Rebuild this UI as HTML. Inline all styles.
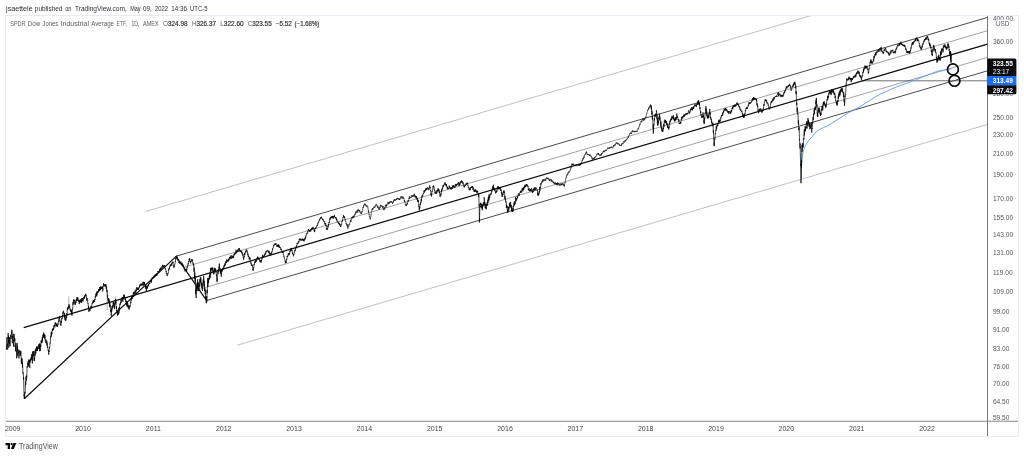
<!DOCTYPE html>
<html lang="en"><head><meta charset="utf-8"><title>DIA chart - TradingView</title>
<style>
html,body{margin:0;padding:0;background:#fff;}
body{width:1024px;height:456px;overflow:hidden;position:relative;font-family:"Liberation Sans",sans-serif;}
#chart{position:absolute;left:0;top:0;width:1024px;height:456px;display:block;}
#chart text{font-family:"Liberation Sans",sans-serif;}
.t{position:absolute;white-space:nowrap;line-height:1;transform-origin:0 0;}
</style></head><body>
<svg id="chart" width="1024" height="456" viewBox="0 0 1024 456">
<rect x="5.5" y="15.5" width="1013.0" height="421.0" fill="#fff" stroke="#e8ebf1" stroke-width="1"/>
<defs><clipPath id="plot"><rect x="6.0" y="16.0" width="981.5" height="405.2"/></clipPath></defs>
<g clip-path="url(#plot)" fill="none" stroke-linecap="butt">
<line x1="145.5" y1="211.5" x2="987.5" y2="-36.3" stroke="#aeb1ba" stroke-width="0.8"/>
<line x1="237.3" y1="345.2" x2="987.5" y2="124.5" stroke="#aeb1ba" stroke-width="0.8"/>
<line x1="183.7" y1="267.3" x2="987.5" y2="30.7" stroke="#707075" stroke-width="0.65"/>
<line x1="199.0" y1="289.4" x2="987.5" y2="57.4" stroke="#707075" stroke-width="0.65"/>
<line x1="176.1" y1="256.2" x2="987.5" y2="17.4" stroke="#1c1c1e" stroke-width="0.8"/>
<line x1="206.7" y1="300.5" x2="987.5" y2="70.8" stroke="#1c1c1e" stroke-width="0.8"/>
<line x1="861.5" y1="80.8" x2="987.5" y2="80.8" stroke="#4a4a4e" stroke-width="0.8"/>
<polyline points="801.2,178.0 801.5,168.0 801.9,160.0 802.6,154.0 803.6,150.0 805.0,146.5 806.5,143.8 808.5,140.8 811.6,137.2 814.0,134.4 816.8,131.2 820.0,129.2 823.5,127.6 827.4,125.9 832.0,123.0 837.9,119.4 843.0,116.2 848.4,112.8 853.5,110.1 858.9,107.3 864.0,104.1 869.5,100.6 875.0,97.2 880.0,94.2 886.0,91.6 890.5,89.4 896.0,87.1 901.4,85.3 909.0,82.4 916.7,79.4 924.0,76.5 932.1,73.3 936.0,71.8 939.7,70.7 943.5,70.1 947.4,69.6 951.6,68.8" stroke="#5b9cf6" stroke-width="0.9" stroke-linejoin="round"/>
<path d="M6.0,343.5 6.0,346.5 6.3,346.9 6.3,345.9 6.6,348.1 6.6,349.7 6.8,343.1 6.8,340.2 7.1,337.1 7.1,341.3 7.4,345.5 7.4,344.6 7.7,346.4 7.7,349.6 8.0,340.7 8.0,339.3 8.2,333.1 8.2,334.7 8.5,342.8 8.5,335.9 8.8,344.4 8.8,347.5 9.1,342.3 9.1,340.5 9.4,337.2 9.4,342.0 9.6,344.2 9.6,340.1 9.9,343.8 9.9,346.1 10.2,346.2 10.2,342.1 10.5,335.6 10.5,336.6 10.8,336.3 10.8,334.8 11.0,337.8 11.0,339.0 11.3,337.2 11.3,335.5 11.6,331.7 11.6,333.3 11.9,332.6 11.9,329.7 12.1,336.0 12.1,337.9 12.4,343.2 12.4,340.6 12.7,336.0 12.7,338.1 13.0,335.3 13.0,333.6 13.3,337.3 13.3,338.6 13.5,346.5 13.5,343.6 13.8,339.8 13.8,342.0 14.1,336.3 14.1,333.9 14.4,335.7 14.4,337.7 14.7,340.9 14.7,338.3 14.9,338.3 14.9,346.7 15.2,346.8 15.2,345.1 15.5,348.0 15.5,350.9 15.8,351.1 15.8,342.7 16.1,346.2 16.1,348.4 16.3,352.1 16.3,351.0 16.6,353.0 16.6,358.3 16.9,353.1 16.9,351.4 17.2,343.1 17.2,348.0 17.5,350.5 17.5,346.3 17.7,355.2 17.7,356.3 18.0,354.5 18.0,354.2 18.3,349.6 18.3,351.2 18.6,353.7 18.6,351.9 18.9,354.6 18.9,358.4 19.1,356.5 19.1,352.7 19.4,351.2 19.4,352.5 19.7,352.2 19.7,350.3 20.0,351.5 20.0,352.4 20.3,356.0 20.3,353.4 20.5,352.7 20.5,354.1 20.8,352.6 20.8,350.9 21.1,354.8 21.1,355.8 21.4,363.8 21.4,359.4 21.7,358.4 21.7,363.8 21.9,361.2 21.9,358.6 22.2,358.5 22.2,360.2 22.5,367.4 22.5,362.8 22.8,368.8 22.8,372.5 23.0,373.7 23.0,372.3 23.3,372.9 23.3,373.6 23.6,379.4 23.6,377.3 23.9,389.0 23.9,390.3 24.2,396.0 24.2,394.5 24.3,397.5 24.3,399.0 24.4,395.1 24.4,397.9 24.7,395.4 24.7,392.1 25.0,392.3 25.0,393.7 25.3,390.5 25.3,388.6 25.6,381.3 25.6,385.3 25.8,383.9 25.8,380.7 26.1,376.5 26.1,380.0 26.4,380.7 26.4,375.7 26.7,375.5 26.7,377.8 27.0,370.5 27.0,368.5 27.2,366.1 27.2,367.6 27.5,367.3 27.5,365.4 27.8,362.7 27.8,365.2 28.1,365.3 28.1,361.0 28.4,362.1 28.4,366.6 28.6,362.7 28.6,360.7 28.9,359.4 28.9,360.4 29.2,362.4 29.2,360.2 29.5,361.7 29.5,363.6 29.8,367.9 29.8,359.9 30.0,360.9 30.0,362.5 30.3,361.7 30.3,360.0 30.6,358.6 30.6,360.8 30.9,359.7 30.9,358.5 31.2,357.5 31.2,359.3 31.4,359.2 31.4,354.2 31.7,354.9 31.7,356.9 32.0,360.2 32.0,355.7 32.3,356.6 32.3,363.5 32.6,357.3 32.6,356.3 32.8,351.5 32.8,356.8 33.1,352.9 33.1,351.6 33.4,353.3 33.4,356.1 33.7,353.3 33.7,351.0 33.9,355.0 33.9,357.4 34.2,361.1 34.2,357.9 34.5,357.4 34.5,360.5 34.8,356.4 34.8,354.0 35.1,350.8 35.1,355.7 35.3,352.3 35.3,350.8 35.6,349.1 35.6,351.7 35.9,353.4 35.9,349.2 36.2,348.2 36.2,350.6 36.5,350.5 36.5,346.6 36.7,349.8 36.7,350.8 37.0,349.9 37.0,347.7 37.3,349.6 37.3,350.8 37.6,351.1 37.6,346.5 37.9,346.5 37.9,348.8 38.1,348.9 38.1,346.7 38.4,346.6 38.4,347.4 38.7,348.6 38.7,345.1 39.0,344.0 39.0,348.3 39.3,345.7 39.3,343.8 39.5,345.4 39.5,347.1 39.8,351.2 39.8,343.4 40.1,347.9 40.1,350.9 40.4,349.5 40.4,344.6 40.7,344.8 40.7,347.1 40.9,345.9 40.9,343.0 41.2,340.3 41.2,341.9 41.5,343.1 41.5,340.8 41.8,340.8 41.8,343.0 42.1,342.0 42.1,340.1 42.3,337.2 42.3,341.7 42.6,337.9 42.6,336.0 42.9,335.1 42.9,336.3 43.2,336.0 43.2,333.7 43.5,334.1 43.5,335.8 43.7,337.7 43.7,332.6 44.0,335.5 44.0,336.0 44.3,337.5 44.3,336.1 44.6,334.2 44.6,338.7 44.9,338.1 44.9,335.2 45.1,337.6 45.1,339.9 45.4,340.7 45.4,339.2 45.7,339.7 45.7,341.3 46.0,342.9 46.0,339.9 46.2,341.7 46.2,343.1 46.5,343.1 46.5,342.1 46.8,340.8 46.8,345.4 47.1,345.5 47.1,342.6 47.4,345.2 47.4,345.7 47.6,347.9 47.6,346.5 47.9,347.8 47.9,348.6 48.2,350.8 48.2,350.1 48.5,349.9 48.5,352.7 48.8,354.7 48.8,352.8 49.0,351.0 49.0,352.0 49.3,349.9 49.3,349.3 49.6,347.2 49.6,347.8 49.9,345.4 49.9,344.5 50.2,342.5 50.2,343.3 50.4,341.6 50.4,339.0 50.7,336.3 50.7,337.4 51.0,336.2 51.0,335.6 51.3,331.8 51.3,336.4 51.6,333.4 51.6,332.5 51.8,333.1 51.8,334.3 52.1,332.8 52.1,330.3 52.4,329.3 52.4,331.0 52.7,330.6 52.7,328.6 53.0,328.9 53.0,329.9 53.2,329.5 53.2,328.4 53.5,327.8 53.5,329.9 53.8,329.0 53.8,327.0 54.1,325.1 54.1,326.8 54.4,326.9 54.4,325.3 54.6,324.8 54.6,325.8 54.9,327.3 54.9,325.7 55.2,322.9 55.2,324.3 55.5,323.4 55.5,322.2 55.8,323.0 55.8,323.8 56.0,326.1 56.0,323.2 56.3,324.5 56.3,324.9 56.6,326.1 56.6,324.2 56.9,325.1 56.9,326.0 57.1,326.5 57.1,324.8 57.4,325.1 57.4,326.9 57.7,326.4 57.7,323.6 58.0,323.5 58.0,324.6 58.3,322.7 58.3,322.2 58.5,320.7 58.5,321.7 58.8,320.7 58.8,319.5 59.1,318.3 59.1,319.3 59.4,318.0 59.4,316.7 59.7,315.9 59.7,320.7 59.9,321.5 59.9,320.4 60.2,321.4 60.2,323.3 60.5,324.7 60.5,323.7 60.8,324.2 60.8,325.6 61.1,325.8 61.1,321.6 61.3,320.8 61.3,322.9 61.6,320.5 61.6,318.3 61.9,317.9 61.9,319.3 62.2,318.1 62.2,317.6 62.5,315.2 62.5,317.4 62.7,315.0 62.7,313.2 63.0,312.3 63.0,313.5 63.3,312.1 63.3,310.7 63.6,310.9 63.6,312.2 63.9,313.4 63.9,312.7 64.1,314.5 64.1,315.9 64.4,317.5 64.4,313.3 64.7,315.4 64.7,316.8 65.0,319.8 65.0,315.1 65.3,319.5 65.3,320.7 65.5,320.3 65.5,319.5 65.8,318.1 65.8,320.6 66.1,318.7 66.1,317.2 66.4,316.2 66.4,317.7 66.7,318.0 66.7,313.3 66.9,314.9 66.9,315.5 67.2,313.6 67.2,310.2 67.5,308.1 67.5,309.9 67.8,309.2 67.8,308.5 68.0,307.1 68.0,309.0 68.3,308.3 68.3,306.5 68.6,306.0 68.6,307.7 68.9,305.0 68.9,304.1 69.2,305.1 69.2,305.8 69.4,307.5 69.4,306.7 69.7,305.7 69.7,307.5 70.0,309.7 70.0,308.7 70.3,309.1 70.3,310.4 70.6,311.6 70.6,310.1 70.8,310.0 70.8,310.5 71.1,311.4 71.1,310.7 71.4,309.7 71.4,311.8 71.7,314.4 71.7,310.4 72.0,313.4 72.0,315.7 72.2,311.9 72.2,310.8 72.5,309.1 72.5,309.8 72.8,306.6 72.8,304.7 73.1,301.9 73.1,304.6 73.4,302.4 73.4,301.4 73.6,299.5 73.6,301.5 73.9,303.2 73.9,301.0 74.2,299.8 74.2,301.0 74.5,301.2 74.5,300.1 74.8,300.9 74.8,301.5 75.0,304.6 75.0,303.5 75.3,302.3 75.3,304.8 75.6,302.0 75.6,301.5 75.9,300.9 75.9,301.8 76.2,302.5 76.2,299.4 76.4,298.9 76.4,300.9 76.7,300.2 76.7,299.6 77.0,297.2 77.0,301.0 77.3,299.5 77.3,298.9 77.6,298.3 77.6,299.1 77.8,299.6 77.8,297.4 78.1,299.1 78.1,300.5 78.4,301.2 78.4,300.6 78.7,300.8 78.7,301.9 78.9,300.1 78.9,299.7 79.2,300.4 79.2,304.1 79.5,301.5 79.5,300.3 79.8,300.5 79.8,301.5 80.1,301.5 80.1,301.0 80.3,300.5 80.3,302.2 80.6,300.4 80.6,299.3 80.9,300.1 80.9,302.8 81.2,302.3 81.2,299.5 81.5,299.6 81.5,302.0 81.7,302.6 81.7,297.9 82.0,299.3 82.0,300.3 82.3,299.1 82.3,298.0 82.6,299.2 82.6,300.0 82.9,301.5 82.9,299.3 83.1,299.8 83.1,300.5 83.4,299.1 83.4,298.4 83.7,296.8 83.7,298.2 84.0,298.8 84.0,298.0 84.3,297.1 84.3,298.6 84.5,298.3 84.5,295.5 84.8,295.8 84.8,297.3 85.1,296.6 85.1,296.1 85.4,294.5 85.4,295.9 85.7,295.4 85.7,294.0 85.9,293.8 85.9,294.2 86.2,296.2 86.2,295.5 86.5,296.9 86.5,299.7 86.8,300.6 86.8,299.3 87.1,298.0 87.1,300.2 87.3,299.8 87.3,299.4 87.6,300.4 87.6,301.4 87.9,303.5 87.9,303.0 88.2,304.0 88.2,304.9 88.5,308.7 88.5,305.9 88.7,308.5 88.7,309.4 89.0,311.9 89.0,309.3 89.3,309.6 89.3,310.3 89.6,311.0 89.6,310.0 89.8,308.9 89.8,310.8 90.1,309.9 90.1,309.0 90.4,308.1 90.4,308.9 90.7,308.4 90.7,307.5 91.0,305.8 91.0,307.1 91.2,308.7 91.2,307.4 91.5,307.1 91.5,307.4 91.8,307.0 91.8,305.1 92.1,303.6 92.1,304.0 92.4,303.1 92.4,302.5 92.6,301.9 92.6,302.7 92.9,302.7 92.9,301.6 93.2,300.5 93.2,301.9 93.5,303.1 93.5,302.1 93.8,300.2 93.8,301.1 94.0,301.9 94.0,300.3 94.3,301.0 94.3,302.1 94.6,301.6 94.6,299.7 94.9,299.2 94.9,300.1 95.2,297.6 95.2,297.0 95.4,295.9 95.4,297.6 95.7,297.2 95.7,296.1 96.0,293.5 96.0,295.8 96.3,295.3 96.3,294.6 96.6,292.2 96.6,294.8 96.8,296.4 96.8,293.0 97.1,291.4 97.1,294.6 97.4,293.1 97.4,291.3 97.7,291.3 97.7,292.8 98.0,292.6 98.0,291.2 98.2,291.1 98.2,292.3 98.5,292.0 98.5,291.2 98.8,289.0 98.8,289.3 99.1,291.4 99.1,289.1 99.4,290.3 99.4,290.8 99.6,289.8 99.6,287.0 99.9,288.1 99.9,289.5 100.2,289.6 100.2,288.2 100.5,286.7 100.5,290.3 100.8,289.3 100.8,287.5 101.0,286.6 101.0,287.2 101.3,288.9 101.3,287.9 101.6,286.9 101.6,287.8 101.9,288.8 101.9,288.0 102.1,286.5 102.1,287.1 102.4,288.5 102.4,287.3 102.7,287.8 102.7,291.4 103.0,288.7 103.0,287.4 103.3,285.6 103.3,286.3 103.5,284.9 103.5,283.2 103.8,285.0 103.8,285.9 104.1,285.9 104.1,284.7 104.4,285.4 104.4,286.3 104.7,284.5 104.7,284.2 104.9,284.5 104.9,286.1 105.2,285.7 105.2,285.3 105.5,285.3 105.5,286.9 105.8,286.6 105.8,284.1 106.1,285.2 106.1,286.3 106.3,289.0 106.3,287.8 106.6,286.5 106.6,290.3 106.9,292.1 106.9,289.7 107.2,290.0 107.2,291.7 107.5,298.2 107.5,294.7 107.7,295.3 107.7,298.0 108.0,300.4 108.0,299.2 108.3,299.2 108.3,301.8 108.6,299.9 108.6,298.0 108.9,302.1 108.9,303.1 109.1,301.6 109.1,299.4 109.4,301.8 109.4,303.0 109.7,307.3 109.7,302.7 110.0,303.0 110.0,305.2 110.3,306.0 110.3,305.1 110.5,307.8 110.5,309.5 110.8,312.0 110.8,309.8 111.1,313.5 111.1,314.3 111.4,316.0 111.4,311.6 111.7,308.4 111.7,311.6 111.9,308.9 111.9,306.1 112.2,307.3 112.2,308.5 112.5,308.2 112.5,305.4 112.8,305.3 112.8,307.4 113.0,304.7 113.0,303.5 113.3,302.2 113.3,303.1 113.6,304.5 113.6,302.2 113.9,303.4 113.9,306.1 114.2,307.5 114.2,304.1 114.4,306.1 114.4,309.0 114.7,305.4 114.7,305.0 115.0,302.3 115.0,304.4 115.3,303.5 115.3,301.0 115.6,299.0 115.6,301.5 115.8,303.4 115.8,300.7 116.1,303.6 116.1,305.3 116.4,308.8 116.4,306.0 116.7,309.8 116.7,311.2 117.0,311.3 117.0,309.8 117.2,312.8 117.2,313.7 117.5,315.5 117.5,311.3 117.8,312.7 117.8,314.5 118.1,314.9 118.1,313.8 118.4,312.7 118.4,314.8 118.6,313.8 118.6,311.8 118.9,307.7 118.9,313.3 119.2,310.3 119.2,308.6 119.5,307.2 119.5,308.7 119.8,305.0 119.8,304.3 120.0,303.6 120.0,305.0 120.3,304.1 120.3,303.8 120.6,302.5 120.6,303.7 120.9,300.8 120.9,300.2 121.2,301.4 121.2,302.5 121.4,301.4 121.4,299.7 121.7,298.6 121.7,300.6 122.0,300.1 122.0,297.2 122.3,297.2 122.3,299.0 122.6,299.3 122.6,298.3 122.8,297.2 122.8,301.6 123.1,299.2 123.1,297.4 123.4,296.8 123.4,298.0 123.7,296.7 123.7,296.1 123.9,294.4 123.9,296.5 124.2,297.9 124.2,296.4 124.5,295.1 124.5,296.4 124.8,298.2 124.8,296.9 125.1,297.2 125.1,300.0 125.3,298.2 125.3,297.6 125.6,297.9 125.6,301.2 125.9,302.0 125.9,300.7 126.2,302.1 126.2,303.1 126.5,304.5 126.5,300.8 126.7,300.9 126.7,305.3 127.0,306.2 127.0,301.6 127.3,303.9 127.3,307.1 127.6,304.9 127.6,303.0 127.9,304.0 127.9,306.0 128.1,307.3 128.1,305.0 128.4,306.0 128.4,307.4 128.7,308.3 128.7,306.6 129.0,309.0 129.0,309.7 129.3,309.2 129.3,306.0 129.5,306.6 129.5,307.4 129.8,307.6 129.8,305.6 130.1,305.5 130.1,306.6 130.4,304.4 130.4,303.6 130.7,301.8 130.7,303.4 130.9,302.4 130.9,301.5 131.2,297.7 131.2,300.5 131.5,299.4 131.5,297.0 131.8,296.0 131.8,296.7 132.1,298.3 132.1,297.2 132.3,296.4 132.3,298.6 132.6,297.7 132.6,296.6 132.9,295.3 132.9,296.8 133.2,294.8 133.2,293.6 133.5,292.3 133.5,292.9 133.7,294.6 133.7,292.1 134.0,292.3 134.0,293.4 134.3,294.0 134.3,292.7 134.6,292.5 134.6,294.0 134.8,293.9 134.8,292.7 135.1,290.6 135.1,292.2 135.4,291.6 135.4,290.9 135.7,292.4 135.7,293.7 136.0,293.1 136.0,289.5 136.2,289.2 136.2,290.9 136.5,288.4 136.5,287.4 136.8,288.4 136.8,289.9 137.1,289.5 137.1,288.4 137.4,288.2 137.4,289.1 137.6,289.6 137.6,288.4 137.9,287.4 137.9,288.4 138.2,289.7 138.2,288.8 138.5,288.0 138.5,289.4 138.8,289.3 138.8,288.6 139.0,287.4 139.0,288.2 139.3,287.6 139.3,287.0 139.6,285.6 139.6,286.7 139.9,286.0 139.9,284.6 140.2,285.3 140.2,286.2 140.4,285.6 140.4,284.5 140.7,284.9 140.7,285.7 141.0,284.3 141.0,283.4 141.3,284.8 141.3,285.4 141.6,285.5 141.6,284.7 141.8,283.8 141.8,284.6 142.1,285.1 142.1,284.4 142.4,284.0 142.4,284.6 142.7,285.5 142.7,284.1 143.0,282.2 143.0,283.6 143.2,283.0 143.2,281.7 143.5,283.1 143.5,285.6 143.8,284.2 143.8,283.5 144.1,283.6 144.1,284.1 144.4,284.5 144.4,282.0 144.6,283.0 144.6,283.9 144.9,284.7 144.9,283.8 145.2,284.9 145.2,285.5 145.5,288.2 145.5,286.8 145.8,285.0 145.8,288.6 146.0,288.9 146.0,286.5 146.3,287.1 146.3,290.8 146.6,287.9 146.6,287.0 146.9,285.9 146.9,289.1 147.1,287.9 147.1,286.7 147.4,286.6 147.4,287.6 147.7,287.3 147.7,285.3 148.0,285.3 148.0,286.4 148.3,285.8 148.3,285.3 148.5,284.2 148.5,285.5 148.8,285.6 148.8,284.2 149.1,283.1 149.1,283.7 149.4,283.6 149.4,283.0 149.7,283.0 149.7,284.0 149.9,282.9 149.9,281.9 150.2,281.5 150.2,282.0 150.5,281.5 150.5,280.4 150.8,280.5 150.8,281.9 151.1,281.8 151.1,280.0 151.3,279.1 151.3,282.7 151.6,280.6 151.6,278.8 151.9,278.4 151.9,278.9 152.2,278.8 152.2,277.5 152.5,277.2 152.5,278.3 152.7,279.1 152.7,277.9 153.0,277.5 153.0,277.6 153.3,278.0 153.3,277.3 153.6,276.6 153.6,277.9 153.9,277.7 153.9,276.9 154.1,275.5 154.1,277.7 154.4,276.8 154.4,276.2 154.7,275.4 154.7,276.0 155.0,276.3 155.0,275.0 155.3,274.5 155.3,276.4 155.5,274.6 155.5,274.4 155.8,274.5 155.8,275.6 156.1,276.0 156.1,275.4 156.4,274.0 156.4,274.9 156.7,275.4 156.7,273.4 156.9,274.9 156.9,275.5 157.2,274.0 157.2,273.2 157.5,273.6 157.5,273.9 157.8,273.1 157.8,272.3 158.0,271.1 158.0,272.1 158.3,271.7 158.3,271.0 158.6,271.6 158.6,272.7 158.9,271.8 158.9,271.2 159.2,271.6 159.2,272.1 159.4,271.6 159.4,269.3 159.7,270.2 159.7,270.4 160.0,270.8 160.0,268.5 160.3,268.8 160.3,269.9 160.6,268.7 160.6,267.7 160.8,268.9 160.8,269.9 161.1,269.8 161.1,268.0 161.4,268.0 161.4,268.4 161.7,268.2 161.7,267.5 162.0,266.3 162.0,268.5 162.2,267.7 162.2,267.0 162.5,265.2 162.5,266.3 162.8,266.3 162.8,264.8 163.1,265.7 163.1,266.2 163.4,267.3 163.4,266.5 163.6,266.1 163.6,266.9 163.9,266.5 163.9,265.5 164.2,266.6 164.2,267.1 164.5,266.2 164.5,265.1 164.8,266.9 164.8,268.1 165.0,268.7 165.0,268.4 165.3,268.3 165.3,269.3 165.6,269.7 165.6,269.3 165.9,270.3 165.9,271.1 166.2,271.8 166.2,271.2 166.4,273.3 166.4,274.0 166.7,273.9 166.7,273.3 167.0,273.3 167.0,274.9 167.3,276.1 167.3,275.6 167.6,274.5 167.6,274.9 167.8,273.9 167.8,273.6 168.1,272.9 168.1,273.4 168.4,272.3 168.4,271.6 168.7,269.3 168.7,270.2 168.9,268.8 168.9,268.0 169.2,267.8 169.2,268.4 169.5,269.2 169.5,266.9 169.8,266.4 169.8,266.8 170.1,265.8 170.1,264.7 170.3,265.7 170.3,266.3 170.6,265.4 170.6,264.6 170.9,264.8 170.9,266.1 171.2,265.4 171.2,264.9 171.5,263.9 171.5,265.3 171.7,264.1 171.7,263.1 172.0,262.6 172.0,263.7 172.3,263.3 172.3,262.1 172.6,262.3 172.6,263.0 172.9,262.2 172.9,261.5 173.1,262.5 173.1,263.6 173.4,265.8 173.4,265.5 173.7,266.0 173.7,267.7 174.0,267.7 174.0,266.6 174.3,265.8 174.3,266.8 174.5,264.8 174.5,264.4 174.8,264.0 174.8,264.3 175.1,263.1 175.1,262.6 175.4,261.0 175.4,261.6 175.7,259.1 175.7,258.7 175.9,258.2 175.9,259.5 176.1,256.3 176.2,257.1 176.2,256.5 176.5,256.3 176.5,256.6 176.8,257.4 176.8,255.8 177.1,258.4 177.1,258.8 177.3,258.9 177.3,258.7 177.6,259.4 177.6,260.4 177.9,260.1 177.9,259.9 178.2,259.7 178.2,260.5 178.5,260.7 178.5,260.5 178.7,261.7 178.7,262.1 179.0,262.9 179.0,262.7 179.3,262.0 179.3,262.6 179.6,263.3 179.6,262.7 179.8,263.3 179.8,263.6 180.1,263.8 180.1,262.4 180.4,262.3 180.4,263.0 180.7,262.9 180.7,262.2 181.0,261.7 181.0,264.3 181.2,264.5 181.2,263.8 181.5,264.1 181.5,265.2 181.8,265.1 181.8,263.4 182.1,262.8 182.1,263.1 182.4,264.8 182.4,263.7 182.6,263.9 182.6,265.0 182.9,264.8 182.9,264.4 183.2,265.9 183.2,266.6 183.5,265.9 183.5,265.3 183.8,266.7 183.8,267.6 184.0,268.2 184.0,267.5 184.3,268.4 184.3,268.8 184.6,269.7 184.6,269.2 184.9,269.7 184.9,271.3 185.2,270.9 185.2,269.8 185.4,269.2 185.4,270.3 185.7,270.4 185.7,269.6 186.0,270.6 186.0,271.3 186.3,271.7 186.3,270.6 186.6,268.8 186.6,270.9 186.8,270.1 186.8,268.3 187.1,267.4 187.1,268.1 187.4,266.6 187.4,266.0 187.7,265.2 187.7,265.8 188.0,265.2 188.0,264.7 188.2,263.2 188.2,264.4 188.5,262.2 188.5,261.5 188.8,260.9 188.8,261.5 189.1,260.3 189.1,259.4 189.4,258.7 189.4,259.5 189.6,260.7 189.6,258.0 189.9,259.9 189.9,261.3 190.2,262.3 190.2,261.1 190.5,262.1 190.5,262.7 190.7,263.4 190.7,262.2 191.0,261.5 191.0,262.0 191.3,261.8 191.3,260.0 191.6,259.5 191.6,259.9 191.9,260.6 191.9,259.3 192.1,259.6 192.1,260.5 192.4,260.6 192.4,259.6 192.7,260.2 192.7,262.4 193.0,263.7 193.0,262.8 193.3,263.4 193.3,263.7 193.5,266.0 193.5,264.2 193.8,265.1 193.8,265.6 194.1,271.8 194.1,267.7 194.4,270.0 194.4,273.9 194.7,278.8 194.7,272.2 194.9,274.4 194.9,277.1 195.2,282.1 195.2,276.0 195.5,283.5 195.5,286.3 195.8,294.1 195.8,289.6 196.0,295.0 196.1,295.3 196.1,298.0 196.3,292.6 196.3,288.8 196.6,285.5 196.6,290.8 196.9,286.2 196.9,283.0 197.2,282.6 197.2,284.5 197.5,285.9 197.5,280.6 197.7,279.3 197.7,284.5 198.0,291.2 198.0,282.0 198.3,285.0 198.3,290.9 198.6,289.2 198.6,286.1 198.9,283.1 198.9,288.7 199.1,289.2 199.1,285.0 199.4,284.6 199.4,285.8 199.7,286.5 199.7,283.7 200.0,279.0 200.0,283.6 200.3,278.9 200.3,277.5 200.5,279.0 200.5,280.4 200.8,281.7 200.8,277.4 201.1,283.3 201.1,284.5 201.4,286.0 201.4,282.5 201.7,286.3 201.7,288.0 201.9,286.9 201.9,284.9 202.2,286.0 202.2,289.6 202.5,290.9 202.5,287.6 202.8,283.4 202.8,284.6 203.0,284.9 203.0,283.3 203.3,279.4 203.3,283.3 203.6,280.4 203.6,276.0 203.9,279.5 203.9,284.7 204.2,287.2 204.2,280.8 204.4,283.3 204.4,291.0 204.7,289.2 204.7,287.9 205.0,288.1 205.0,291.1 205.3,294.4 205.3,291.0 205.6,289.6 205.6,296.8 205.8,299.2 205.8,296.3 206.1,297.7 206.1,302.5 206.4,303.3 206.4,299.2 206.5,300.4 206.7,296.1 206.7,302.2 207.0,296.3 207.0,295.6 207.2,290.0 207.2,293.3 207.5,287.4 207.5,280.6 207.8,277.8 207.8,287.0 208.1,284.4 208.1,282.1 208.4,279.5 208.4,281.2 208.6,283.0 208.6,278.6 208.9,278.0 208.9,280.1 209.2,279.5 209.2,276.5 209.5,275.3 209.5,279.0 209.8,273.9 209.8,273.1 210.0,274.7 210.0,276.3 210.3,277.8 210.3,270.4 210.6,268.3 210.6,274.8 210.9,272.4 210.9,268.6 211.2,267.9 211.2,269.8 211.4,268.6 211.4,267.6 211.7,268.3 211.7,268.8 212.0,270.6 212.0,269.8 212.3,268.0 212.3,269.3 212.6,269.5 212.6,267.4 212.8,269.2 212.8,272.3 213.1,271.3 213.1,269.7 213.4,272.9 213.4,273.7 213.7,274.3 213.7,273.0 213.9,270.8 213.9,273.8 214.2,273.6 214.2,268.3 214.5,267.8 214.5,271.9 214.8,271.2 214.8,268.0 215.1,269.0 215.1,269.9 215.3,271.4 215.3,268.7 215.6,269.2 215.6,270.7 215.9,272.4 215.9,271.1 216.2,272.3 216.2,273.7 216.5,276.3 216.5,274.6 216.7,276.7 216.7,278.1 217.0,281.7 217.0,280.1 217.3,278.3 217.3,280.7 217.6,275.2 217.6,274.8 217.9,271.6 217.9,274.1 218.1,273.9 218.1,269.5 218.4,269.3 218.4,270.8 218.7,272.1 218.7,267.6 219.0,266.5 219.0,267.6 219.3,266.7 219.3,263.6 219.5,266.7 219.5,268.2 219.8,270.2 219.8,268.0 220.1,267.9 220.1,269.0 220.4,272.9 220.4,270.8 220.7,270.5 220.7,272.1 220.9,274.0 220.9,273.3 221.2,270.0 221.2,276.7 221.5,272.5 221.5,272.0 221.8,270.5 221.8,272.1 222.1,270.2 222.1,269.4 222.3,269.0 222.3,270.6 222.6,269.6 222.6,267.9 222.9,268.8 222.9,269.4 223.2,269.4 223.2,268.0 223.5,268.3 223.5,268.9 223.7,266.5 223.7,265.8 224.0,265.5 224.0,267.5 224.3,266.8 224.3,266.4 224.6,264.5 224.6,266.1 224.8,264.3 224.8,263.3 225.1,263.5 225.1,265.5 225.4,264.1 225.4,263.2 225.7,261.5 225.7,263.0 226.0,262.4 226.0,261.6 226.2,262.1 226.2,263.1 226.5,262.9 226.5,262.3 226.8,259.4 226.8,261.6 227.1,262.1 227.1,260.2 227.4,260.8 227.4,261.2 227.6,261.1 227.6,260.8 227.9,259.9 227.9,260.8 228.2,261.0 228.2,259.8 228.5,259.0 228.5,261.4 228.8,259.3 228.8,258.8 229.0,258.5 229.0,259.5 229.3,259.4 229.3,258.8 229.6,256.9 229.6,257.8 229.9,259.2 229.9,257.2 230.2,258.4 230.2,259.1 230.4,258.1 230.4,256.4 230.7,256.3 230.7,257.5 231.0,257.2 231.0,255.3 231.3,256.1 231.3,257.6 231.6,258.5 231.6,257.3 231.8,257.7 231.8,258.3 232.1,257.2 232.1,255.5 232.4,256.6 232.4,257.0 232.7,257.9 232.7,256.1 233.0,255.9 233.0,257.3 233.2,257.1 233.2,256.6 233.5,256.7 233.5,258.1 233.8,255.8 233.8,254.2 234.1,254.4 234.1,255.4 234.4,254.9 234.4,253.9 234.6,253.1 234.6,254.0 234.9,254.7 234.9,253.9 235.2,252.8 235.2,253.4 235.5,253.7 235.5,252.5 235.7,251.9 235.7,252.5 236.0,252.1 236.0,249.6 236.3,250.9 236.3,253.4 236.6,251.6 236.6,250.9 236.9,251.0 236.9,251.6 237.1,252.2 237.1,251.2 237.4,251.3 237.4,251.7 237.7,251.2 237.7,249.7 238.0,251.6 238.0,252.1 238.3,251.1 238.3,250.3 238.5,248.9 238.5,249.1 238.8,248.7 238.8,248.3 239.1,249.9 239.1,250.3 239.4,250.3 239.4,248.2 239.7,250.1 239.7,250.6 239.9,251.7 239.9,250.7 240.2,250.0 240.2,250.6 240.5,251.3 240.5,250.6 240.8,251.7 240.8,252.0 241.1,252.2 241.1,251.6 241.3,250.7 241.3,251.7 241.6,252.6 241.6,251.5 241.9,251.9 241.9,252.8 242.2,253.8 242.2,252.6 242.5,252.7 242.5,253.7 242.7,255.7 242.7,254.0 243.0,254.8 243.0,255.3 243.3,258.0 243.3,257.6 243.6,259.3 243.6,259.8 243.9,257.8 243.9,257.6 244.1,256.3 244.1,257.3 244.4,256.2 244.4,255.6 244.7,253.0 244.7,255.1 245.0,254.0 245.0,253.3 245.3,251.6 245.3,252.4 245.5,252.3 245.5,251.7 245.8,251.6 245.8,252.0 246.1,251.8 246.1,249.8 246.4,250.1 246.4,251.3 246.6,251.2 246.6,249.5 246.9,250.1 246.9,250.8 247.2,252.3 247.2,251.6 247.5,252.3 247.5,253.4 247.8,254.7 247.8,253.4 248.0,254.3 248.0,255.3 248.3,256.7 248.3,255.4 248.6,256.0 248.6,256.4 248.9,257.3 248.9,256.6 249.2,257.1 249.2,259.6 249.4,258.3 249.4,257.8 249.7,257.2 249.7,257.5 250.0,259.1 250.0,257.9 250.3,260.4 250.3,260.9 250.6,261.7 250.6,261.4 250.8,263.1 250.8,263.6 251.1,262.9 251.1,262.5 251.4,265.4 251.4,265.9 251.7,265.2 251.7,264.6 252.0,265.0 252.0,265.4 252.2,266.1 252.2,264.7 252.5,267.3 252.5,267.8 252.8,269.9 252.8,269.3 253.1,269.8 253.1,270.8 253.4,270.3 253.4,269.2 253.6,267.5 253.6,268.3 253.9,266.8 253.9,266.4 254.2,264.1 254.2,265.1 254.5,263.0 254.5,262.7 254.8,261.4 254.8,262.3 255.0,262.8 255.0,262.4 255.3,261.4 255.3,262.7 255.6,261.4 255.6,259.9 255.9,260.1 255.9,260.6 256.2,260.4 256.2,259.8 256.4,259.3 256.4,261.6 256.7,259.8 256.7,259.1 257.0,258.3 257.0,259.2 257.3,258.6 257.3,257.5 257.6,256.6 257.6,256.7 257.8,258.6 257.8,256.9 258.1,257.6 258.1,258.4 258.4,259.6 258.4,258.5 258.7,258.5 258.7,258.8 258.9,259.1 258.9,258.7 259.2,259.1 259.2,259.7 259.5,260.2 259.5,259.5 259.8,259.9 259.8,261.1 260.1,262.0 260.1,260.9 260.3,260.2 260.3,262.2 260.6,262.3 260.6,261.3 260.9,260.7 260.9,261.0 261.2,262.5 261.2,260.0 261.5,259.7 261.5,260.8 261.7,260.3 261.7,259.5 262.0,258.3 262.0,258.8 262.3,257.4 262.3,256.9 262.6,254.9 262.6,257.5 262.9,257.4 262.9,256.4 263.1,256.3 263.1,257.4 263.4,256.7 263.4,255.9 263.7,256.1 263.7,256.8 264.0,257.1 264.0,256.3 264.3,254.6 264.3,255.6 264.5,255.8 264.5,255.1 264.8,254.0 264.8,254.5 265.1,253.5 265.1,252.9 265.4,253.7 265.4,254.6 265.7,253.1 265.7,252.7 265.9,251.2 265.9,252.5 266.2,252.6 266.2,252.2 266.5,251.5 266.5,251.9 266.8,251.5 266.8,251.4 267.1,250.6 267.1,251.0 267.3,250.9 267.3,250.6 267.6,250.8 267.6,251.2 267.9,251.0 267.9,250.3 268.2,250.6 268.2,251.2 268.5,252.4 268.5,251.1 268.7,252.4 268.7,253.0 269.0,252.7 269.0,250.9 269.3,252.1 269.3,254.3 269.6,253.9 269.6,253.4 269.8,253.2 269.8,253.9 270.1,254.7 270.1,254.1 270.4,253.4 270.4,255.4 270.7,255.1 270.7,254.1 271.0,253.5 271.0,254.3 271.2,253.6 271.2,252.4 271.5,252.3 271.5,253.6 271.8,253.6 271.8,252.8 272.1,251.2 272.1,251.7 272.4,250.5 272.4,249.9 272.6,248.6 272.6,249.6 272.9,248.2 272.9,247.7 273.2,247.6 273.2,247.7 273.5,247.4 273.5,246.1 273.8,245.2 273.8,245.6 274.0,245.0 274.0,244.4 274.3,244.9 274.3,245.4 274.6,244.7 274.6,243.8 274.9,244.0 274.9,244.3 275.2,244.8 275.2,244.1 275.4,243.5 275.4,244.0 275.7,244.7 275.7,244.4 276.0,243.1 276.0,244.2 276.3,244.7 276.3,244.6 276.6,244.8 276.6,245.6 276.8,246.5 276.8,245.6 277.1,245.1 277.1,246.6 277.4,245.6 277.4,245.1 277.7,244.7 277.7,245.4 278.0,246.9 278.0,245.0 278.2,246.0 278.2,246.8 278.5,245.1 278.5,244.8 278.8,244.4 278.8,246.0 279.1,247.4 279.1,245.7 279.4,245.7 279.4,247.7 279.6,247.7 279.6,247.4 279.9,247.4 279.9,247.8 280.2,247.5 280.2,247.0 280.5,248.2 280.5,248.7 280.7,249.7 280.7,249.1 281.0,248.6 281.0,249.5 281.3,250.1 281.3,249.5 281.6,249.3 281.6,250.3 281.9,251.9 281.9,251.1 282.1,251.2 282.1,251.7 282.4,252.8 282.4,252.1 282.7,251.5 282.7,251.9 283.0,253.1 283.0,252.1 283.3,253.4 283.3,254.3 283.5,255.1 283.5,254.8 283.8,255.4 283.8,255.6 284.1,257.3 284.1,256.6 284.4,257.3 284.4,258.4 284.7,259.0 284.7,258.9 284.9,259.7 284.9,260.0 285.2,262.5 285.2,262.1 285.5,261.4 285.5,263.2 285.8,262.8 285.8,261.3 286.1,262.2 286.1,262.9 286.3,260.4 286.3,259.7 286.6,259.0 286.6,260.3 286.9,259.2 286.9,258.9 287.2,256.1 287.2,256.7 287.5,257.1 287.5,256.1 287.7,255.8 287.7,256.2 288.0,256.4 288.0,255.5 288.3,253.6 288.3,254.5 288.6,254.1 288.6,253.5 288.9,253.3 288.9,255.3 289.1,254.1 289.1,253.6 289.4,253.1 289.4,254.5 289.7,254.0 289.7,253.4 290.0,250.8 290.0,251.7 290.3,250.9 290.3,250.5 290.5,250.1 290.5,250.9 290.8,250.7 290.8,249.0 291.1,248.2 291.1,249.3 291.4,249.5 291.4,248.0 291.6,248.0 291.6,249.5 291.9,251.2 291.9,250.2 292.2,250.8 292.2,250.9 292.5,253.8 292.5,253.2 292.8,253.8 292.8,254.3 293.0,254.5 293.0,253.8 293.3,254.2 293.3,255.1 293.6,256.3 293.6,255.3 293.9,254.0 293.9,254.1 294.2,254.2 294.2,253.6 294.4,251.8 294.4,252.3 294.7,251.5 294.7,251.2 295.0,249.7 295.0,251.1 295.3,249.7 295.3,248.6 295.6,248.3 295.6,249.2 295.8,248.7 295.8,247.0 296.1,246.4 296.1,246.9 296.4,247.3 296.4,247.1 296.7,245.4 296.7,245.9 297.0,244.8 297.0,244.3 297.2,242.8 297.2,243.5 297.5,243.5 297.5,243.3 297.8,243.3 297.8,244.0 298.1,243.6 298.1,243.3 298.4,241.5 298.4,242.4 298.6,242.2 298.6,241.7 298.9,241.5 298.9,242.2 299.2,241.3 299.2,239.5 299.5,238.9 299.5,239.1 299.8,240.1 299.8,239.4 300.0,238.3 300.0,239.4 300.3,239.7 300.3,239.0 300.6,239.6 300.6,240.4 300.9,240.2 300.9,239.8 301.2,239.8 301.2,240.5 301.4,239.5 301.4,239.4 301.7,239.8 301.7,240.2 302.0,239.0 302.0,238.7 302.3,238.5 302.3,239.0 302.5,239.8 302.5,239.3 302.8,239.1 302.8,240.1 303.1,240.9 303.1,240.3 303.4,239.3 303.4,241.1 303.7,240.8 303.7,238.9 303.9,240.0 303.9,240.3 304.2,241.3 304.2,240.7 304.5,239.1 304.5,239.6 304.8,239.3 304.8,238.7 305.1,237.7 305.1,239.4 305.3,238.6 305.3,238.4 305.6,236.5 305.6,238.0 305.9,236.4 305.9,235.6 306.2,234.9 306.2,235.3 306.5,235.0 306.5,234.5 306.7,233.4 306.7,233.9 307.0,233.1 307.0,232.8 307.3,233.3 307.3,233.6 307.6,232.5 307.6,231.6 307.9,231.4 307.9,232.0 308.1,231.9 308.1,230.8 308.4,229.1 308.4,230.0 308.7,230.6 308.7,229.8 309.0,230.0 309.0,230.4 309.3,230.8 309.3,230.2 309.5,230.0 309.5,231.7 309.8,231.8 309.8,231.0 310.1,230.1 310.1,230.3 310.4,231.0 310.4,229.5 310.7,229.7 310.7,231.5 310.9,230.9 310.9,230.3 311.2,229.2 311.2,229.9 311.5,229.6 311.5,229.0 311.8,228.1 311.8,228.8 312.1,228.8 312.1,227.6 312.3,228.7 312.3,229.3 312.6,229.4 312.6,227.3 312.9,226.9 312.9,227.3 313.2,228.0 313.2,227.7 313.5,228.2 313.5,228.4 313.7,229.0 313.7,228.0 314.0,229.4 314.0,230.0 314.3,231.4 314.3,230.4 314.6,230.1 314.6,232.1 314.8,230.1 314.8,229.7 315.1,228.3 315.1,228.9 315.4,229.1 315.4,228.7 315.7,227.8 315.7,228.9 316.0,227.9 316.0,227.4 316.2,227.0 316.2,227.5 316.5,226.5 316.5,226.2 316.8,225.7 316.8,226.1 317.1,225.6 317.1,224.9 317.4,224.9 317.4,225.7 317.6,225.8 317.6,224.7 317.9,222.8 317.9,223.3 318.2,223.1 318.2,222.3 318.5,222.2 318.5,222.7 318.8,221.8 318.8,221.5 319.0,220.9 319.0,221.1 319.3,219.5 319.3,219.2 319.6,219.7 319.6,220.4 319.9,219.8 319.9,219.5 320.2,218.2 320.2,218.5 320.4,218.6 320.4,218.1 320.7,217.4 320.7,218.4 321.0,218.5 321.0,217.9 321.3,217.3 321.3,217.9 321.6,217.2 321.6,216.7 321.8,218.3 321.8,218.5 322.1,218.7 322.1,218.5 322.4,218.6 322.4,219.9 322.7,220.1 322.7,219.0 323.0,219.7 323.0,219.8 323.2,219.8 323.2,219.4 323.5,220.4 323.5,221.3 323.8,221.2 323.8,220.9 324.1,221.0 324.1,221.7 324.4,222.1 324.4,221.5 324.6,222.2 324.6,222.8 324.9,224.4 324.9,223.4 325.2,222.9 325.2,223.8 325.5,224.3 325.5,223.3 325.7,224.3 325.7,225.2 326.0,226.1 326.0,225.1 326.3,226.1 326.3,227.6 326.6,229.4 326.6,228.9 326.9,228.3 326.9,229.5 327.1,230.0 327.1,229.6 327.4,228.4 327.4,229.3 327.7,228.9 327.7,227.0 328.0,225.8 328.0,226.8 328.3,227.2 328.3,226.3 328.5,224.3 328.5,225.4 328.8,223.6 328.8,223.3 329.1,222.0 329.1,223.0 329.4,222.5 329.4,220.9 329.7,219.4 329.7,220.0 329.9,219.6 329.9,218.6 330.2,217.6 330.2,219.3 330.5,217.7 330.5,217.4 330.8,217.5 330.8,217.9 331.1,217.3 331.1,216.7 331.3,217.9 331.3,218.1 331.6,217.4 331.6,216.5 331.9,216.1 331.9,218.2 332.2,217.0 332.2,216.6 332.5,216.3 332.5,216.9 332.7,217.7 332.7,217.3 333.0,216.1 333.0,216.8 333.3,218.8 333.3,217.4 333.6,216.5 333.6,217.7 333.9,217.1 333.9,216.2 334.1,216.0 334.1,216.9 334.4,215.5 334.4,214.9 334.7,216.0 334.7,216.8 335.0,217.4 335.0,217.0 335.3,217.1 335.3,217.8 335.5,217.6 335.5,217.4 335.8,218.0 335.8,218.7 336.1,218.9 336.1,217.4 336.4,218.7 336.4,220.2 336.6,219.5 336.6,218.8 336.9,220.5 336.9,220.8 337.2,221.6 337.2,220.6 337.5,221.6 337.5,222.0 337.8,222.0 337.8,221.7 338.0,221.9 338.0,222.2 338.3,223.4 338.3,222.8 338.6,222.6 338.6,223.7 338.9,223.2 338.9,222.6 339.2,223.3 339.2,224.0 339.4,224.8 339.4,223.1 339.7,223.9 339.7,225.4 340.0,224.6 340.0,224.1 340.3,225.7 340.3,226.0 340.6,227.0 340.6,226.4 340.8,225.7 340.8,226.5 341.1,226.0 341.1,225.6 341.4,224.2 341.4,224.6 341.7,223.6 341.7,222.7 342.0,221.6 342.0,222.0 342.2,221.4 342.2,221.0 342.5,219.8 342.5,220.4 342.8,219.5 342.8,218.7 343.1,217.3 343.1,217.8 343.4,216.9 343.4,215.9 343.6,215.0 343.6,216.6 343.9,217.2 343.9,216.0 344.2,216.4 344.2,217.2 344.5,217.8 344.5,216.9 344.8,218.0 344.8,218.8 345.0,219.9 M415.2,196.2 415.2,196.4 415.5,196.6 415.5,195.7 415.7,196.6 415.7,197.1 416.0,198.5 416.0,197.9 416.3,196.0 416.3,197.3 416.6,198.0 416.6,197.1 416.9,198.8 416.9,199.4 417.1,199.8 417.1,199.1 417.4,198.2 417.4,199.6 417.7,201.6 417.7,199.5 418.0,200.8 418.0,201.8 418.3,200.9 418.3,200.1 418.5,202.6 418.5,203.2 418.8,206.5 418.8,205.7 419.1,208.1 419.1,209.5 419.4,210.5 419.4,210.1 419.7,206.9 419.7,208.4 419.9,208.2 419.9,206.4 420.2,203.7 420.2,205.0 420.5,204.6 420.5,202.8 420.8,202.3 420.8,203.2 421.1,200.3 421.1,199.8 421.3,198.8 421.3,201.3 421.6,197.6 421.6,196.9 421.9,196.6 421.9,197.4 422.2,195.5 422.2,195.0 422.5,195.4 422.5,196.7 422.7,196.5 422.7,194.2 423.0,193.8 423.0,194.1 423.3,194.1 423.3,194.0 423.6,192.9 423.6,193.4 423.9,193.1 423.9,191.9 424.1,190.6 424.1,192.3 424.4,192.4 424.4,190.3 424.7,190.0 424.7,190.7 425.0,190.3 425.0,190.0 425.2,190.2 425.2,191.3 425.5,190.5 425.5,189.7 425.8,188.6 425.8,190.4 426.1,189.2 426.1,188.2 426.4,188.6 426.4,189.3 426.6,189.8 426.6,188.6 426.9,188.4 426.9,188.9 427.2,187.8 427.2,187.6 427.5,187.4 427.5,188.0 427.8,188.6 427.8,188.0 428.0,188.4 428.0,189.8 428.3,190.1 428.3,188.2 428.6,188.4 428.6,189.1 428.9,189.4 428.9,189.0 429.2,187.8 429.2,188.2 429.4,187.0 429.4,186.1 429.7,185.4 429.7,185.7 430.0,187.8 430.0,187.1 430.3,189.0 430.3,189.5 430.6,190.8 430.6,190.2 430.8,192.3 430.8,193.6 431.1,195.2 431.1,193.6 431.4,195.9 431.4,196.6 431.7,195.0 431.7,193.9 432.0,191.2 432.0,191.9 432.2,191.7 432.2,191.3 432.5,190.5 432.5,190.6 432.8,189.1 432.8,188.1 433.1,186.0 433.1,187.1 433.4,187.3 433.4,186.2 433.6,185.5 433.6,186.6 433.9,187.2 433.9,186.7 434.2,187.6 434.2,190.0 434.5,190.5 434.5,189.6 434.8,190.5 434.8,191.4 435.0,192.9 435.0,192.5 435.3,191.5 435.3,193.1 435.6,193.3 435.6,191.9 435.9,192.4 435.9,193.4 436.2,193.0 436.2,192.7 436.4,192.9 436.4,193.7 436.7,192.2 436.7,191.1 437.0,190.2 437.0,191.9 437.3,191.3 437.3,190.6 437.5,190.3 437.5,191.0 437.8,191.0 437.8,190.5 438.1,188.1 438.1,190.6 438.4,189.9 438.4,189.5 438.7,189.3 438.7,189.8 438.9,191.6 438.9,189.8 439.2,189.7 439.2,190.8 439.5,192.8 439.5,192.0 439.8,194.8 439.8,195.4 440.1,196.5 440.1,195.8 440.3,196.2 440.3,196.6 440.6,195.4 440.6,195.2 440.9,193.4 440.9,195.5 441.2,193.2 441.2,191.8 441.5,190.3 441.5,192.0 441.7,190.5 441.7,189.8 442.0,189.0 442.0,190.4 442.3,189.2 442.3,188.5 442.6,187.7 442.6,188.9 442.9,186.0 442.9,185.5 443.1,186.2 443.1,187.0 443.4,186.2 443.4,184.9 443.7,185.0 443.7,185.6 444.0,185.5 444.0,184.6 444.3,184.5 444.3,184.9 444.5,183.6 444.5,183.1 444.8,183.0 444.8,183.9 445.1,183.6 445.1,182.3 445.4,183.5 445.4,183.8 445.7,185.1 445.7,184.3 445.9,185.5 445.9,186.1 446.2,185.9 446.2,185.5 446.5,184.0 446.5,185.2 446.8,186.7 446.8,186.3 447.1,186.8 447.1,188.5 447.3,188.3 447.3,186.9 447.6,187.5 447.6,189.3 447.9,188.6 447.9,187.7 448.2,188.2 448.2,188.6 448.4,188.8 448.4,188.4 448.7,188.1 448.7,188.9 449.0,187.7 449.0,187.2 449.3,185.6 449.3,186.5 449.6,186.9 449.6,186.2 449.8,187.7 449.8,188.2 450.1,188.4 450.1,187.6 450.4,188.1 450.4,188.9 450.7,188.1 450.7,187.6 451.0,187.6 451.0,188.9 451.2,189.8 451.2,188.9 451.5,187.7 451.5,188.1 451.8,187.8 451.8,187.0 452.1,186.9 452.1,188.8 452.4,186.3 452.4,185.7 452.6,185.8 452.6,187.5 452.9,187.1 452.9,186.8 453.2,185.5 453.2,186.7 453.5,185.7 453.5,185.4 453.8,185.1 453.8,186.9 454.0,187.8 454.0,186.2 454.3,186.4 454.3,187.5 454.6,187.6 454.6,187.3 454.9,186.6 454.9,187.4 455.2,186.7 455.2,186.0 455.4,184.2 455.4,185.6 455.7,185.3 455.7,184.4 456.0,184.6 456.0,186.2 456.3,185.6 456.3,184.5 456.6,184.3 456.6,185.3 456.8,185.5 456.8,184.6 457.1,185.0 457.1,185.2 457.4,184.6 457.4,183.9 457.7,183.4 457.7,184.6 458.0,183.5 458.0,182.8 458.2,183.0 458.2,183.2 458.5,183.1 458.5,182.0 458.8,182.5 458.8,182.9 459.1,186.0 459.1,183.6 459.3,185.0 459.3,185.3 459.6,183.8 459.6,182.8 459.9,183.2 459.9,183.7 460.2,184.5 460.2,182.2 460.5,182.2 460.5,182.6 460.7,182.0 460.7,181.5 461.0,180.9 461.0,182.3 461.3,182.1 461.3,181.5 461.6,180.4 461.6,181.5 461.9,182.7 461.9,182.1 462.1,181.0 462.1,182.6 462.4,182.9 462.4,182.4 462.7,183.3 462.7,184.1 463.0,183.7 463.0,182.5 463.3,183.4 463.3,184.5 463.5,185.3 463.5,185.1 463.8,184.9 463.8,185.3 464.1,187.4 464.1,186.8 464.4,186.3 464.4,187.2 464.7,185.8 464.7,185.4 464.9,185.5 464.9,185.8 465.2,186.1 465.2,185.6 465.5,185.0 465.5,185.6 465.8,185.0 465.8,184.5 466.1,183.7 466.1,184.6 466.3,184.6 466.3,183.3 466.6,183.6 466.6,184.3 466.9,183.9 466.9,183.0 467.2,182.5 467.2,183.9 467.5,183.6 467.5,183.2 467.7,184.3 467.7,185.3 468.0,186.1 468.0,185.6 468.3,187.2 468.3,187.9 468.6,188.0 468.6,187.4 468.9,187.8 468.9,188.1 469.1,189.7 469.1,188.9 469.4,189.2 469.4,189.8 469.7,190.4 469.7,189.9 470.0,188.1 470.0,190.1 470.2,188.6 470.2,188.0 470.5,187.0 470.5,188.3 470.8,187.7 470.8,187.5 471.1,187.2 471.1,188.0 471.4,187.9 471.4,187.1 471.6,186.8 471.6,187.0 471.9,187.1 471.9,186.0 472.2,186.2 472.2,187.7 472.5,186.8 472.5,186.0 472.8,187.1 472.8,187.7 473.0,189.7 473.0,188.5 473.3,187.5 473.3,188.4 473.6,189.2 473.6,188.1 473.9,189.8 473.9,190.5 474.2,191.7 474.2,190.3 474.4,191.4 474.4,191.6 474.7,191.9 474.7,191.6 475.0,189.6 475.0,191.0 475.3,191.1 475.3,189.7 475.6,191.5 475.6,191.7 475.8,191.0 475.8,189.7 476.1,190.3 476.1,191.3 476.4,191.3 476.4,191.1 476.7,192.6 476.7,193.2 477.0,192.5 477.0,191.9 477.2,190.7 477.2,191.5 477.5,192.1 477.5,191.1 477.8,190.9 477.8,192.2 478.1,193.3 478.1,193.0 478.4,194.4 478.4,194.6 478.6,197.0 478.6,193.8 478.9,195.1 478.9,198.2 479.2,205.7 479.2,204.0 479.4,222.5 479.5,218.3 479.5,221.1 479.8,208.8 479.8,207.6 480.0,206.1 480.0,207.2 480.3,206.7 480.3,204.7 480.6,202.7 480.6,203.9 480.9,204.7 480.9,203.7 481.1,205.2 481.1,207.6 481.4,207.6 481.4,203.7 481.7,207.0 481.7,208.4 482.0,207.9 482.0,206.9 482.3,205.4 482.3,210.3 482.5,206.4 482.5,205.3 482.8,204.2 482.8,206.4 483.1,206.2 483.1,205.0 483.4,202.5 483.4,205.3 483.7,203.8 483.7,202.7 483.9,202.5 483.9,203.6 484.2,200.4 484.2,197.3 484.5,201.1 484.5,203.4 484.8,205.4 484.8,204.0 485.1,202.5 485.1,206.4 485.3,208.3 485.3,204.1 485.6,205.5 485.6,208.3 485.9,208.4 485.9,207.2 486.2,206.7 486.2,209.4 486.5,207.1 486.5,205.2 486.7,204.0 486.7,206.0 487.0,203.6 487.0,202.2 487.3,202.3 487.3,203.4 487.6,205.5 487.6,203.2 487.9,199.8 487.9,202.3 488.1,202.7 488.1,199.1 488.4,197.0 488.4,200.2 488.7,199.1 488.7,197.7 489.0,194.6 489.0,200.7 489.3,197.8 489.3,196.2 489.5,195.9 489.5,196.3 489.8,197.5 489.8,194.5 490.1,194.4 490.1,194.8 490.4,195.3 490.4,194.3 490.7,194.1 490.7,195.0 490.9,194.5 490.9,193.1 491.2,192.7 491.2,194.0 491.5,192.2 491.5,191.1 491.8,190.3 491.8,191.7 492.1,190.7 492.1,190.1 492.3,188.6 492.3,189.3 492.6,189.1 492.6,188.1 492.9,186.2 492.9,189.8 493.2,187.6 493.2,186.9 493.4,184.7 493.4,188.3 493.7,189.7 493.7,188.0 494.0,187.7 494.0,189.4 494.3,189.2 494.3,188.7 494.6,189.9 494.6,190.8 494.8,190.4 494.8,188.5 495.1,190.6 495.1,190.9 495.4,192.4 495.4,191.8 495.7,192.7 495.7,193.4 496.0,192.2 496.0,191.6 496.2,191.1 496.2,192.5 496.5,191.1 496.5,190.7 496.8,190.6 496.8,191.9 497.1,191.2 497.1,188.1 497.4,187.3 497.4,189.3 497.6,188.4 497.6,186.5 497.9,187.2 497.9,188.5 498.2,187.9 498.2,186.7 498.5,186.4 498.5,187.5 498.8,189.3 498.8,186.6 499.0,188.5 499.0,189.3 499.3,188.5 499.3,187.7 499.6,188.4 499.6,188.8 499.9,189.1 499.9,188.1 500.2,187.1 500.2,188.6 500.4,188.8 500.4,188.1 500.7,190.0 500.7,190.3 501.0,191.0 501.0,189.5 501.3,192.1 501.3,192.9 501.6,193.1 501.6,191.9 501.8,192.8 501.8,194.0 502.1,196.6 502.1,193.0 502.4,195.4 502.4,195.8 502.7,196.6 502.7,195.0 503.0,194.3 503.0,194.9 503.2,194.3 503.2,192.2 503.5,191.2 503.5,192.9 503.8,191.4 503.8,190.6 504.1,190.3 504.1,190.7 504.3,192.7 504.3,192.2 504.6,191.8 504.6,194.4 504.9,199.0 504.9,195.9 505.2,196.7 505.2,198.4 505.5,200.5 505.5,198.8 505.7,201.3 505.7,202.3 506.0,202.6 506.0,201.4 506.3,202.7 506.3,207.8 506.6,206.7 506.6,204.6 506.9,207.6 506.9,208.2 507.1,208.0 507.1,205.9 507.4,210.7 507.4,212.6 507.7,213.0 507.7,209.6 508.0,210.4 508.0,211.9 508.3,209.2 508.3,207.5 508.5,206.7 508.5,208.4 508.8,210.4 508.8,207.3 509.1,207.4 509.1,208.3 509.4,208.1 509.4,202.7 509.7,204.0 509.7,206.3 509.9,206.0 509.9,204.4 510.2,205.6 510.2,207.0 510.5,207.4 510.5,202.1 510.8,203.7 510.8,205.4 511.1,206.8 511.1,205.0 511.3,205.8 511.3,207.0 511.6,211.1 511.6,207.4 511.9,206.4 511.9,211.7 512.2,210.9 512.2,210.1 512.5,210.8 512.5,211.8 512.7,211.6 512.7,208.3 513.0,207.7 513.0,211.3 513.3,208.2 513.3,207.6 513.6,204.9 513.6,205.6 513.9,206.4 513.9,204.2 514.1,202.9 514.1,204.1 514.4,205.2 514.4,201.3 514.7,202.4 514.7,204.8 515.0,203.6 515.0,203.1 515.2,202.4 515.2,203.6 515.5,200.4 515.5,196.9 515.8,199.8 515.8,201.5 516.1,201.1 516.1,200.2 516.4,198.9 516.4,200.3 516.6,200.4 516.6,198.3 516.9,198.5 516.9,198.8 517.2,199.1 517.2,196.0 517.5,197.0 517.5,198.1 517.8,196.6 517.8,196.0 518.0,195.1 518.0,195.4 518.3,194.4 518.3,193.5 518.6,193.5 518.6,194.4 518.9,195.2 518.9,194.4 519.2,194.6 519.2,195.6 519.4,193.9 519.4,193.4 519.7,193.0 519.7,193.3 520.0,192.2 520.0,191.9 520.3,191.6 520.3,192.5 520.6,192.5 520.6,190.9 520.8,190.7 520.8,192.2 521.1,192.5 521.1,191.9 521.4,191.4 521.4,192.5 521.7,190.6 521.7,190.0 522.0,189.6 522.0,190.5 522.2,190.4 522.2,187.8 522.5,188.9 522.5,190.4 522.8,191.4 522.8,189.7 523.1,188.6 523.1,190.0 523.4,189.7 523.4,189.0 523.6,187.1 523.6,190.2 523.9,188.0 523.9,187.2 524.2,186.5 524.2,186.9 524.5,188.1 524.5,185.9 524.8,185.8 524.8,187.1 525.0,185.6 525.0,184.7 525.3,184.9 525.3,185.8 525.6,187.2 525.6,185.2 525.9,185.0 525.9,186.0 526.1,186.3 526.1,185.0 526.4,184.1 526.4,185.5 526.7,184.8 526.7,184.5 527.0,184.3 527.0,184.9 527.3,186.0 527.3,185.3 527.5,185.2 527.5,185.9 527.8,186.6 527.8,185.6 528.1,186.4 528.1,187.1 528.4,190.1 528.4,189.0 528.7,189.3 528.7,189.9 528.9,190.4 528.9,189.9 529.2,188.2 529.2,190.0 529.5,191.0 529.5,190.2 529.8,190.0 529.8,191.4 530.1,191.4 530.1,189.7 530.3,189.5 530.3,190.3 530.6,189.6 530.6,189.1 530.9,190.2 530.9,190.8 531.2,190.5 531.2,189.8 531.5,188.2 531.5,191.3 531.7,190.7 531.7,190.2 532.0,190.9 532.0,191.4 532.3,192.5 532.3,191.8 532.6,191.9 532.6,192.5 532.9,192.1 532.9,190.9 533.1,189.1 533.1,192.1 533.4,190.5 533.4,189.4 533.7,188.4 533.7,190.3 534.0,190.5 534.0,189.7 534.3,187.6 534.3,189.9 534.5,188.5 534.5,187.9 534.8,187.6 534.8,190.6 535.1,190.0 535.1,189.0 535.4,189.3 535.4,189.8 535.7,188.2 535.7,187.3 535.9,187.9 535.9,188.8 536.2,189.1 536.2,188.5 536.5,188.5 536.5,188.8 536.8,189.1 536.8,188.9 537.0,189.7 537.0,190.7 537.3,190.6 537.3,190.2 537.6,190.2 537.6,193.2 537.9,195.6 537.9,192.7 538.2,193.9 538.2,195.4 538.4,195.1 538.4,194.3 538.7,193.1 538.7,195.1 539.0,193.6 539.0,192.1 539.3,191.0 539.3,192.6 539.6,192.0 539.6,189.2 539.8,187.1 539.8,189.3 540.1,190.6 540.1,186.7 540.4,186.8 540.4,187.7 540.7,186.2 540.7,183.9 541.0,183.0 541.0,184.0 541.2,184.6 M651.1,105.8 651.1,107.2 651.4,109.8 651.4,105.9 651.6,110.5 651.6,111.4 651.9,114.6 651.9,110.7 652.2,112.4 652.2,119.1 652.5,119.6 652.5,116.1 652.8,121.4 652.8,122.7 653.0,126.7 653.0,125.6 653.3,129.5 653.3,126.9 653.3,133.6 653.6,126.1 653.6,125.1 653.9,124.3 653.9,125.3 654.2,122.6 654.2,122.1 654.4,118.3 654.4,120.5 654.7,117.5 654.7,114.9 655.0,114.5 655.0,116.9 655.3,116.6 655.3,114.8 655.6,114.3 655.6,116.0 655.8,114.1 655.8,113.6 656.1,113.8 656.1,114.5 656.4,112.6 656.4,110.3 656.7,112.9 656.7,115.0 657.0,119.1 657.0,115.0 657.2,116.9 657.2,120.0 657.5,125.3 657.5,118.5 657.8,123.3 657.8,125.6 658.1,125.2 658.1,122.5 658.4,121.1 658.4,123.3 658.6,120.1 658.6,119.1 658.9,117.3 658.9,118.6 659.2,117.2 659.2,115.8 659.5,113.5 659.5,114.8 659.8,120.1 659.8,116.3 660.0,118.2 660.0,120.2 660.3,121.3 660.3,120.7 660.6,122.1 660.6,124.7 660.9,126.4 660.9,121.5 661.1,122.7 661.1,127.0 661.4,128.7 661.4,126.6 661.7,128.6 661.7,129.6 662.0,131.3 662.0,128.1 662.3,130.0 662.3,131.0 662.5,131.8 662.5,130.4 662.8,130.1 662.8,131.8 663.1,128.9 663.1,127.3 663.4,128.1 663.4,129.2 663.7,127.5 663.7,125.5 663.9,123.9 663.9,126.8 664.2,122.3 664.2,120.8 664.5,121.0 664.5,122.3 664.8,121.1 664.8,119.6 665.1,120.9 665.1,121.7 665.3,123.1 665.3,120.7 665.6,120.1 665.6,122.8 665.9,122.1 665.9,120.8 666.2,121.9 666.2,122.6 666.5,124.4 666.5,122.3 666.7,121.4 666.7,124.9 667.0,124.4 667.0,123.1 667.3,123.7 667.3,125.3 667.6,127.9 667.6,126.9 667.9,124.7 667.9,127.2 668.1,127.9 668.1,126.8 668.4,127.9 668.4,129.3 668.7,129.7 668.7,127.8 669.0,126.8 669.0,128.2 669.3,125.1 669.3,124.1 669.5,122.6 669.5,123.8 669.8,124.3 669.8,121.8 670.1,120.5 670.1,121.9 670.4,122.2 670.4,121.0 670.7,119.4 670.7,120.2 670.9,120.3 670.9,119.3 671.2,118.4 671.2,120.1 671.5,120.1 671.5,117.6 671.8,117.4 671.8,119.6 672.0,118.5 672.0,115.7 672.3,117.0 672.3,118.2 672.6,117.9 672.6,117.1 672.9,117.0 672.9,118.1 673.2,118.5 673.2,117.2 673.4,115.2 673.4,118.0 673.7,119.3 673.7,117.0 674.0,117.9 674.0,120.3 674.3,120.4 674.3,118.8 674.6,119.0 674.6,120.0 674.8,121.5 674.8,120.3 675.1,118.8 675.1,119.9 675.4,120.8 675.4,117.5 675.7,118.6 675.7,119.8 676.0,120.1 676.0,118.4 676.2,117.0 676.2,119.4 676.5,117.6 676.5,116.7 676.8,113.6 676.8,114.5 677.1,116.6 677.1,115.8 677.4,116.9 677.4,117.9 677.6,117.6 677.6,117.1 677.9,118.3 677.9,119.3 678.2,119.8 678.2,119.0 678.5,119.6 678.5,121.2 678.8,120.9 678.8,119.5 679.0,120.7 679.0,122.6 679.3,124.0 679.3,122.9 679.6,123.2 679.6,123.9 679.9,123.9 679.9,123.7 680.2,122.9 680.2,123.9 680.4,123.8 680.4,122.0 680.7,122.2 680.7,122.7 681.0,123.1 681.0,121.6 681.3,119.3 681.3,119.8 681.6,118.7 681.6,116.9 681.8,117.6 681.8,119.5 682.1,118.1 682.1,117.5 682.4,117.0 682.4,117.7 682.7,118.2 682.7,117.7 682.9,116.1 682.9,116.6 683.2,117.2 683.2,116.1 683.5,115.6 683.5,116.5 683.8,115.8 683.8,115.2 684.1,114.7 684.1,115.9 684.3,116.9 684.3,114.5 684.6,115.2 684.6,115.7 684.9,116.0 684.9,115.2 685.2,114.7 685.2,115.1 685.5,114.7 685.5,113.7 685.7,113.7 685.7,114.5 686.0,115.1 686.0,114.7 686.3,113.3 686.3,113.6 686.6,114.2 686.6,113.7 686.9,113.3 686.9,114.7 687.1,113.6 687.1,113.2 687.4,113.4 687.4,113.7 687.7,113.4 687.7,113.0 688.0,113.2 688.0,113.6 688.3,112.3 688.3,111.7 688.5,110.6 688.5,110.9 688.8,111.1 688.8,110.7 689.1,111.7 689.1,112.7 689.4,113.6 689.4,113.3 689.7,112.4 689.7,113.1 689.9,112.1 689.9,111.5 690.2,110.4 690.2,111.5 690.5,110.5 690.5,110.0 690.8,108.9 690.8,109.3 691.1,109.9 691.1,108.5 691.3,109.6 691.3,110.1 691.6,108.4 691.6,107.7 691.9,107.0 691.9,108.4 692.2,110.4 692.2,108.6 692.5,109.5 692.5,109.9 692.7,109.1 692.7,107.5 693.0,107.0 693.0,107.6 693.3,109.0 693.3,106.7 693.6,106.7 693.6,107.4 693.8,108.6 693.8,107.8 694.1,106.0 694.1,106.5 694.4,106.1 694.4,104.8 694.7,104.8 694.7,105.5 695.0,105.2 695.0,104.4 695.2,104.8 695.2,105.3 695.5,106.1 695.5,105.7 695.8,105.0 695.8,105.7 696.1,106.5 696.1,104.5 696.4,105.4 696.4,106.6 696.6,105.8 696.6,104.4 696.9,103.4 696.9,103.8 697.2,104.3 697.2,103.6 697.5,103.7 697.5,104.9 697.8,104.1 697.8,103.1 698.0,100.8 698.0,103.4 698.3,104.3 698.3,102.3 698.6,100.2 698.6,103.1 698.9,104.3 698.9,102.3 699.2,102.2 699.2,104.1 699.4,105.3 699.4,103.1 699.7,106.7 699.7,108.7 700.0,108.6 700.0,107.3 700.3,109.8 700.3,110.8 700.6,113.1 700.6,111.4 700.8,113.3 700.8,114.2 701.1,115.3 701.1,114.2 701.4,114.9 701.4,117.8 701.7,117.5 701.7,117.1 702.0,116.4 702.0,117.2 702.2,117.5 702.2,115.6 702.5,116.4 702.5,117.5 702.8,116.2 702.8,114.6 703.1,112.4 703.1,114.2 703.4,117.2 703.4,115.4 703.6,118.3 703.6,119.7 703.9,122.6 703.9,120.9 704.2,120.3 704.2,124.1 704.5,120.5 704.5,118.8 704.7,117.6 704.7,119.5 705.0,116.1 705.0,114.4 705.3,112.5 705.3,113.5 705.6,111.1 705.6,110.4 705.9,106.2 705.9,111.5 706.1,111.0 706.1,108.7 706.4,110.8 706.4,112.2 706.7,115.5 706.7,111.4 707.0,113.8 707.0,115.7 707.3,117.7 707.3,115.8 707.5,116.1 707.5,117.1 707.8,118.4 707.8,114.6 708.1,116.2 708.1,118.4 708.4,117.8 708.4,116.1 708.7,114.9 708.7,117.8 708.9,116.7 708.9,114.9 709.2,112.8 709.2,114.3 709.5,112.3 709.5,111.1 709.8,108.9 709.8,113.2 710.1,114.7 710.1,112.1 710.3,115.3 710.3,116.9 710.6,118.4 710.6,116.7 710.9,118.9 710.9,119.8 711.2,120.3 711.2,118.7 711.5,119.8 711.5,122.9 711.7,122.1 711.7,121.2 712.0,123.0 712.0,123.6 712.3,125.4 712.3,123.9 712.6,124.4 712.6,126.2 712.9,124.5 712.9,122.6 713.1,124.8 713.1,125.9 713.4,132.9 713.4,130.4 713.7,135.7 713.7,138.3 714.0,143.5 714.0,142.4 714.2,146.2 714.3,144.0 714.3,145.2 714.5,142.8 714.5,138.5 714.8,138.2 714.8,139.7 715.1,136.1 715.1,135.5 715.4,133.3 715.4,133.9 715.7,132.4 715.7,131.4 715.9,129.8 715.9,130.3 716.2,130.7 716.2,126.2 716.5,127.8 716.5,129.5 716.8,127.6 716.8,126.4 717.0,125.3 717.0,126.5 717.3,126.1 717.3,125.2 717.6,123.2 717.6,126.1 717.9,125.5 717.9,124.4 718.2,123.0 718.2,123.4 718.4,122.6 718.4,121.3 718.7,120.6 718.7,122.7 719.0,121.0 719.0,119.9 719.3,121.2 719.3,122.2 719.6,120.4 719.6,119.6 719.8,120.1 719.8,120.9 720.1,121.5 720.1,120.6 720.4,120.5 720.4,120.9 720.7,118.8 720.7,117.6 721.0,117.9 721.0,118.5 721.2,117.7 721.2,116.7 721.5,115.0 721.5,116.4 721.8,116.0 721.8,115.3 722.1,114.8 722.1,115.6 722.4,114.3 722.4,113.5 722.6,113.4 722.6,115.7 722.9,113.1 722.9,112.5 723.2,111.9 723.2,113.3 723.5,112.2 723.5,110.7 723.8,111.0 723.8,111.7 724.0,110.9 724.0,110.1 724.3,108.8 724.3,109.4 724.6,110.0 724.6,108.9 724.9,109.2 724.9,110.8 725.2,109.4 725.2,108.7 725.4,108.4 725.4,108.9 725.7,110.4 725.7,108.4 726.0,109.7 726.0,110.3 726.3,110.2 726.3,109.3 726.6,109.5 726.6,109.7 726.8,110.8 726.8,109.5 727.1,110.0 727.1,111.4 727.4,112.3 727.4,111.5 727.7,111.1 727.7,111.8 727.9,112.3 727.9,112.0 728.2,111.3 728.2,112.0 728.5,113.5 728.5,111.5 728.8,111.5 728.8,112.4 729.1,112.6 729.1,111.5 729.3,111.3 729.3,111.5 729.6,112.0 729.6,111.6 729.9,112.7 729.9,113.7 730.2,113.4 730.2,112.3 730.5,112.1 730.5,113.2 730.7,113.8 730.7,112.7 731.0,110.4 731.0,111.5 731.3,112.3 731.3,111.2 731.6,110.5 731.6,111.4 731.9,109.8 731.9,109.4 732.1,108.2 732.1,109.1 732.4,108.7 732.4,108.3 732.7,106.8 732.7,109.2 733.0,106.9 733.0,106.5 733.3,105.4 733.3,106.4 733.5,107.3 733.5,105.7 733.8,106.1 733.8,106.6 734.1,106.8 734.1,105.7 734.4,105.1 734.4,105.4 734.7,106.7 734.7,104.8 734.9,105.5 734.9,106.2 735.2,105.9 735.2,104.7 735.5,105.8 735.5,106.4 735.8,104.9 735.8,104.7 736.1,104.5 736.1,105.8 736.3,104.5 736.3,103.8 736.6,103.2 736.6,104.1 736.9,104.1 736.9,103.2 737.2,102.5 737.2,104.0 737.5,105.0 737.5,104.4 737.7,104.3 737.7,104.6 738.0,104.8 738.0,103.6 738.3,105.0 738.3,105.8 738.6,105.0 738.6,104.6 738.8,105.3 738.8,105.5 739.1,107.0 739.1,106.2 739.4,107.5 739.4,108.0 739.7,107.9 739.7,107.4 740.0,107.3 740.0,108.8 740.2,109.7 740.2,108.8 740.5,109.9 740.5,110.5 740.8,110.2 740.8,109.5 741.1,110.1 741.1,110.7 741.4,111.6 741.4,110.8 741.6,111.6 741.6,112.0 741.9,111.8 741.9,111.4 742.2,112.9 742.2,114.0 742.5,114.4 742.5,113.5 742.8,116.2 742.8,116.7 743.0,114.7 743.0,113.9 743.3,115.1 743.3,116.0 743.6,117.5 743.6,116.6 743.9,117.4 743.9,117.9 744.2,116.4 744.2,115.6 744.4,114.1 744.4,116.5 744.7,114.1 744.7,113.8 745.0,113.0 745.0,113.5 745.3,111.5 745.3,110.6 745.6,110.3 745.6,111.2 745.8,109.9 745.8,109.4 746.1,108.2 746.1,109.0 746.4,107.7 746.4,107.4 746.7,107.5 746.7,108.0 747.0,108.9 747.0,108.3 747.2,107.4 747.2,108.8 747.5,108.1 747.5,107.1 747.8,106.8 747.8,107.3 748.1,106.6 748.1,106.3 748.4,104.7 748.4,105.7 748.6,105.2 748.6,104.4 748.9,102.4 748.9,103.1 749.2,103.5 749.2,103.2 749.5,103.0 749.5,104.2 749.7,104.0 749.7,102.8 750.0,102.6 750.0,103.3 750.3,103.2 750.3,102.6 750.6,102.6 750.6,103.4 750.9,102.7 750.9,102.4 751.1,102.1 751.1,102.7 751.4,102.4 751.4,102.2 751.7,101.1 751.7,101.5 752.0,100.9 752.0,100.4 752.3,99.0 752.3,100.2 752.5,99.8 752.5,98.9 752.8,98.1 752.8,100.6 753.1,99.3 753.1,97.9 753.4,97.4 753.4,98.2 753.7,99.8 753.7,97.9 753.9,97.1 753.9,98.5 754.2,98.9 754.2,98.4 754.5,98.5 754.5,99.3 754.8,99.5 754.8,99.1 755.1,98.4 755.1,99.5 755.3,99.3 755.3,98.4 755.6,97.9 755.6,98.9 755.9,99.8 755.9,99.1 756.2,99.6 756.2,100.2 756.5,101.3 756.5,98.8 756.7,100.4 756.7,100.9 757.0,105.1 757.0,103.3 757.3,104.7 757.3,105.4 757.6,106.9 757.6,105.2 757.9,108.0 757.9,108.6 758.1,110.8 758.1,109.5 758.4,111.0 758.4,111.8 758.7,113.2 758.7,111.8 759.0,110.6 759.0,111.4 759.3,110.2 759.3,109.7 759.5,109.1 759.5,109.6 759.8,110.4 759.8,109.5 760.1,108.4 760.1,108.7 760.4,109.8 760.4,109.2 760.6,108.8 760.6,109.4 760.9,110.0 760.9,108.8 761.2,111.4 761.2,112.0 761.5,112.3 761.5,111.3 761.8,111.3 761.8,112.2 762.0,112.5 762.0,111.9 762.3,110.0 762.3,111.7 762.6,111.9 762.6,110.5 762.9,109.6 762.9,110.8 763.2,110.2 763.2,108.9 763.4,108.1 763.4,108.8 763.7,106.8 763.7,106.6 764.0,103.9 764.0,105.6 764.3,103.7 764.3,103.2 764.6,101.8 764.6,101.9 764.8,101.6 764.8,100.9 765.1,99.5 765.1,100.5 765.4,100.8 765.4,100.2 765.7,99.3 765.7,100.9 766.0,101.0 766.0,99.8 766.2,101.2 766.2,101.5 766.5,101.8 766.5,100.2 766.8,101.8 766.8,102.8 767.1,103.5 767.1,102.6 767.4,102.4 767.4,103.0 767.6,103.3 767.6,103.0 767.9,103.3 767.9,103.6 768.2,105.2 768.2,104.7 768.5,106.5 768.5,106.9 768.8,108.5 768.8,108.1 769.0,108.6 769.0,109.1 769.3,109.5 769.3,109.0 769.6,108.2 769.6,108.6 769.9,107.5 769.9,106.8 770.2,106.9 770.2,107.2 770.4,105.6 770.4,105.1 770.7,103.7 770.7,103.9 771.0,102.5 771.0,102.3 771.3,101.5 771.3,102.7 771.6,101.8 771.6,101.3 771.8,101.3 771.8,102.6 772.1,101.2 772.1,100.5 772.4,100.4 772.4,101.4 772.7,100.2 772.7,99.2 772.9,98.6 772.9,99.1 773.2,99.8 773.2,99.0 773.5,99.3 773.5,100.7 773.8,99.3 773.8,97.3 774.1,97.4 774.1,98.8 774.3,99.1 774.3,97.4 774.6,97.1 774.6,97.5 774.9,97.5 774.9,97.1 775.2,96.5 775.2,97.0 775.5,96.5 775.5,96.1 775.7,96.5 775.7,96.6 776.0,96.2 776.0,95.9 776.3,96.3 776.3,96.8 776.6,96.3 776.6,95.7 776.9,96.6 776.9,97.0 777.1,95.6 777.1,95.0 777.4,94.5 777.4,94.9 777.7,94.2 777.7,93.3 778.0,93.4 778.0,93.8 778.3,92.9 778.3,92.1 778.5,94.2 778.5,94.6 778.8,96.5 778.8,94.6 779.1,94.2 779.1,95.1 779.4,94.3 779.4,93.9 779.7,93.5 779.7,93.9 779.9,95.0 779.9,94.7 780.2,94.5 780.2,94.8 780.5,96.1 780.5,95.6 780.8,95.7 780.8,96.0 781.1,97.0 781.1,94.7 781.3,95.6 781.3,95.9 781.6,96.1 781.6,95.6 781.9,95.5 781.9,96.7 782.2,97.0 782.2,96.0 782.5,95.3 782.5,96.1 782.7,95.7 782.7,95.1 783.0,95.5 783.0,96.5 783.3,95.0 783.3,94.7 783.6,93.7 783.6,94.6 783.8,94.6 783.8,94.1 784.1,92.0 784.1,93.2 784.4,92.9 784.4,92.6 784.7,91.3 784.7,92.6 785.0,90.7 785.0,90.5 785.2,90.2 785.2,90.8 785.5,90.0 785.5,88.8 785.8,88.6 785.8,89.3 786.1,88.3 786.1,87.7 786.4,86.7 786.4,87.4 786.6,88.2 786.6,86.7 786.9,86.4 786.9,88.4 787.2,88.1 787.2,87.8 787.5,86.9 787.5,87.1 787.8,86.7 787.8,86.2 788.0,85.6 788.0,86.3 788.3,87.1 788.3,86.5 788.6,85.2 788.6,85.6 788.9,85.9 788.9,85.3 789.2,85.2 789.2,86.0 789.4,85.3 789.4,84.7 789.7,83.7 789.7,84.1 790.0,86.1 790.0,85.5 790.3,85.7 790.3,86.3 790.6,87.6 790.6,86.4 790.8,88.6 790.8,89.1 791.1,90.8 791.1,90.3 791.4,89.7 791.4,90.0 791.7,90.0 791.7,89.3 792.0,87.4 792.0,87.7 792.2,87.4 792.2,86.8 792.5,86.2 792.5,86.8 792.8,86.7 792.8,86.4 793.1,84.5 793.1,85.8 793.4,86.5 793.4,85.1 793.6,83.9 793.6,84.7 793.9,84.2 793.9,83.5 794.2,82.3 794.2,83.7 794.5,82.8 794.5,82.2 794.7,81.7 794.7,82.9 795.0,84.9 795.0,82.6 795.3,84.6 795.3,86.9 795.6,88.3 795.6,85.5 795.9,88.1 795.9,92.7 796.1,94.1 796.1,91.2 796.4,96.5 796.4,97.6 796.7,104.8 796.7,102.6 797.0,108.3 797.0,111.0 797.3,112.6 797.3,108.2 797.5,107.8 797.5,109.3 797.8,114.4 797.8,113.5 798.1,116.0 798.1,117.5 798.4,124.5 798.4,120.3 798.7,123.8 798.7,125.7 798.9,130.3 798.9,128.8 799.2,127.2 799.2,128.8 799.5,140.2 799.5,139.3 799.8,144.6 799.8,146.6 800.1,148.5 800.1,143.4 800.3,151.2 800.3,152.6 800.6,165.5 800.6,163.9 800.9,174.1 800.9,178.5 801.0,183.2 801.2,174.8 801.2,173.5 801.5,160.1 801.5,167.4 801.7,156.8 801.7,152.0 802.0,145.2 802.0,151.9 802.3,147.6 802.3,143.4 802.6,143.3 802.6,145.8 802.9,147.9 802.9,146.5 803.1,143.6 803.1,146.8 803.4,142.3 803.4,139.5 803.7,137.9 803.7,139.6 804.0,139.2 804.0,135.7 804.3,129.7 804.3,135.5 804.5,132.8 804.5,131.0 804.8,129.0 804.8,129.9 805.1,130.1 805.1,126.3 805.4,129.9 805.4,131.3 805.6,131.3 805.6,129.0 805.9,126.7 805.9,128.4 806.2,127.2 806.2,125.6 806.5,122.5 806.5,124.5 806.8,124.0 806.8,121.9 807.0,121.1 807.0,128.6 807.3,124.5 807.3,122.8 807.6,123.4 807.6,125.0 807.9,123.4 807.9,118.1 808.2,119.8 808.2,122.0 808.4,122.8 808.4,119.9 808.7,121.8 808.7,123.7 809.0,126.4 809.0,122.0 809.3,124.3 809.3,125.2 809.6,126.6 809.6,124.6 809.8,124.9 809.8,129.3 810.1,129.0 810.1,126.2 810.4,127.1 810.4,128.2 810.7,128.1 810.7,126.0 811.0,123.6 811.0,125.1 811.2,126.8 811.2,122.6 811.5,130.8 811.5,131.6 811.8,132.7 811.8,131.6 812.1,128.0 812.1,128.9 812.4,126.1 812.4,124.8 812.6,121.9 812.6,123.9 812.9,120.0 812.9,118.3 813.2,116.8 813.2,120.2 813.5,117.9 813.5,114.0 813.8,113.5 813.8,115.4 814.0,113.9 814.0,109.8 814.3,109.6 814.3,112.1 814.6,113.8 814.6,108.7 814.9,107.6 814.9,110.2 815.2,108.0 815.2,106.6 815.4,108.3 815.4,109.3 815.7,109.7 815.7,108.1 816.0,100.2 816.0,104.0 816.3,99.2 816.3,97.9 816.5,101.6 816.5,103.0 816.8,106.8 816.8,104.3 817.1,107.5 817.1,109.2 817.4,115.9 817.4,112.0 817.7,115.4 817.7,117.0 817.9,113.4 817.9,111.5 818.2,109.6 818.2,112.6 818.5,110.0 818.5,108.5 818.8,108.5 818.8,110.3 819.1,108.4 819.1,107.6 819.3,108.9 819.3,109.7 819.6,111.9 819.6,109.5 819.9,112.1 819.9,113.0 820.2,114.5 820.2,112.1 820.5,114.8 820.5,116.0 820.7,116.1 820.7,113.4 821.0,114.1 821.0,114.9 821.3,112.0 821.3,110.5 821.6,108.8 821.6,110.6 821.9,110.3 821.9,107.2 822.1,106.1 822.1,107.3 822.4,108.4 822.4,106.1 822.7,105.7 822.7,110.5 823.0,106.1 823.0,105.1 823.3,102.7 823.3,104.3 823.5,103.6 823.5,102.2 823.8,102.0 823.8,105.3 824.1,102.0 824.1,101.2 824.4,102.2 824.4,102.9 824.7,104.4 824.7,103.2 824.9,104.1 824.9,104.3 825.2,105.8 825.2,104.3 825.5,104.9 825.5,107.6 825.8,107.5 825.8,105.3 826.1,104.9 826.1,106.8 826.3,105.9 826.3,105.0 826.6,102.9 826.6,103.3 826.9,100.2 826.9,99.3 827.2,100.0 827.2,100.4 827.5,100.2 827.5,99.4 827.7,95.7 827.7,99.6 828.0,99.0 828.0,97.5 828.3,95.9 828.3,97.2 828.6,97.5 828.6,95.9 828.8,93.3 828.8,94.4 829.1,93.7 829.1,92.4 829.4,91.6 829.4,92.8 829.7,93.0 829.7,90.4 830.0,92.1 830.0,93.8 830.2,92.6 830.2,91.4 830.5,91.0 830.5,92.6 830.8,93.9 830.8,90.7 831.1,90.3 831.1,95.1 831.4,91.3 831.4,90.0 831.6,90.1 831.6,91.7 831.9,91.0 831.9,89.9 832.2,89.0 832.2,90.1 832.5,90.5 832.5,89.7 832.8,89.7 832.8,90.7 833.0,92.9 833.0,90.0 833.3,92.4 833.3,93.1 833.6,91.5 833.6,90.8 833.9,92.8 833.9,93.7 834.2,94.3 834.2,93.2 834.4,92.8 834.4,94.6 834.7,94.9 834.7,93.3 835.0,93.7 835.0,98.2 835.3,97.4 835.3,95.7 835.6,97.9 835.6,98.8 835.8,101.0 835.8,100.6 836.1,101.8 836.1,102.6 836.4,103.8 836.4,103.0 836.7,102.0 836.7,104.6 837.0,103.9 837.0,101.3 837.2,103.0 837.2,105.7 837.5,101.9 837.5,101.5 837.8,100.2 837.8,101.9 838.1,101.4 838.1,96.6 838.4,95.6 838.4,98.1 838.6,98.7 838.6,93.9 838.9,93.7 838.9,95.0 839.2,94.8 839.2,92.0 839.5,92.9 839.5,93.9 839.7,96.5 839.7,92.1 840.0,90.4 840.0,95.1 840.3,92.8 840.3,91.6 840.6,90.2 840.6,92.3 840.9,90.8 840.9,89.0 841.1,88.9 841.1,90.1 841.4,88.8 841.4,87.9 841.7,88.9 841.7,91.7 842.0,91.5 842.0,89.0 842.3,88.2 842.3,91.5 842.5,92.0 842.5,89.8 842.8,91.7 842.8,92.8 843.1,93.2 843.1,92.2 843.4,92.1 843.4,96.9 843.7,97.0 843.7,92.6 843.9,96.9 843.9,99.1 844.2,102.0 844.2,100.4 844.5,103.3 844.5,105.9 844.8,102.2 844.8,100.0 845.1,95.7 845.1,96.6 845.3,96.8 845.3,95.4 845.6,94.4 845.6,94.8 845.9,90.1 845.9,88.4 846.2,83.8 846.2,84.3 846.5,79.3 846.5,78.6 846.7,78.9 846.7,79.3 847.0,80.0 847.0,79.5 847.3,79.3 847.3,80.3 847.6,80.2 847.6,79.4 847.9,79.1 847.9,80.5 848.1,78.9 848.1,78.6 848.4,78.2 848.4,79.7 848.7,78.9 848.7,78.0 849.0,76.6 849.0,79.2 849.3,78.2 849.3,77.6 849.5,77.7 849.5,78.5 849.8,78.3 849.8,77.8 850.1,78.1 850.1,79.1 850.4,80.2 850.4,79.5 850.6,77.9 850.6,79.4 850.9,79.3 850.9,78.2 851.2,81.6 851.2,82.2 851.5,79.5 851.5,78.0 851.8,78.5 851.8,79.0 852.0,79.5 852.0,78.6 852.3,78.4 852.3,80.1 852.6,78.9 852.6,78.5 852.9,78.1 852.9,78.5 853.2,78.6 853.2,77.5 853.4,76.4 853.4,77.5 853.7,77.3 853.7,76.9 854.0,76.7 854.0,77.3 854.3,77.6 854.3,75.8 854.6,75.5 854.6,76.8 854.8,76.8 854.8,76.4 855.1,76.4 855.1,76.7 855.4,76.0 855.4,74.8 855.7,74.6 855.7,77.3 856.0,75.9 856.0,75.0 856.2,73.6 856.2,74.4 856.5,73.7 856.5,72.6 856.8,74.1 856.8,74.3 857.1,74.1 857.1,72.3 857.4,72.7 857.4,73.4 857.6,72.6 857.6,70.7 857.9,71.3 857.9,72.1 858.2,71.8 858.2,71.3 858.5,71.1 858.5,71.9 858.8,74.2 858.8,72.9 859.0,71.7 859.0,72.5 859.3,73.0 859.3,72.5 859.6,73.7 859.6,75.2 859.9,76.4 859.9,74.9 860.2,75.4 860.2,76.3 860.4,76.6 860.4,76.0 860.7,75.7 860.7,77.7 861.0,77.6 861.0,76.5 861.3,78.9 861.3,79.2 861.5,80.0 861.5,77.8 861.8,77.2 861.8,77.7 862.1,77.4 862.1,75.6 862.4,75.0 862.4,75.7 862.7,75.6 862.7,74.9 862.9,72.0 862.9,72.9 863.2,72.4 863.2,71.7 863.5,69.2 863.5,72.1 863.8,69.5 863.8,68.4 864.1,69.1 864.1,69.6 864.3,67.8 864.3,67.1 864.6,67.8 864.6,68.5 864.9,68.1 864.9,65.6 865.2,67.3 865.2,68.5 865.5,67.5 865.5,66.8 865.7,65.8 865.7,66.9 866.0,68.4 866.0,66.5 866.3,65.9 866.3,66.7 866.6,68.1 866.6,67.2 866.9,66.6 866.9,67.2 867.1,67.3 867.1,66.2 867.4,67.8 867.4,68.8 867.7,69.6 867.7,69.0 868.0,68.7 868.0,71.3 868.3,73.4 868.3,72.8 868.5,72.8 868.5,73.2 868.8,71.7 868.8,70.8 869.1,68.7 869.1,69.2 869.4,67.9 869.4,66.6 869.7,65.5 869.7,66.0 869.9,64.8 869.9,64.5 870.2,61.9 870.2,63.2 870.5,61.2 870.5,60.5 870.8,59.4 870.8,60.2 871.1,61.9 871.1,60.2 871.3,60.7 871.3,60.9 871.6,63.1 871.6,61.4 871.9,62.4 871.9,63.3 872.2,64.0 872.2,63.2 872.4,62.3 872.4,62.9 872.7,63.0 872.7,61.6 873.0,61.5 873.0,61.8 873.3,60.4 873.3,59.9 873.6,59.2 873.6,61.2 873.8,59.3 873.8,57.7 874.1,55.8 874.1,58.4 874.4,57.2 874.4,56.8 874.7,55.9 874.7,56.4 875.0,55.2 875.0,54.2 875.2,53.9 875.2,55.5 875.5,53.0 875.5,52.6 875.8,53.8 875.8,54.2 876.1,55.2 876.1,54.4 876.4,52.0 876.4,52.9 876.6,52.0 876.6,51.7 876.9,51.5 876.9,53.1 877.2,52.2 877.2,51.7 877.5,50.8 877.5,51.2 877.8,51.1 877.8,50.5 878.0,50.1 878.0,51.3 878.3,51.1 878.3,50.3 878.6,50.6 878.6,51.9 878.9,50.8 878.9,49.9 879.2,49.0 879.2,49.6 879.4,48.7 879.4,48.4 879.7,49.0 879.7,49.5 880.0,51.4 880.0,49.9 880.3,48.7 880.3,49.7 880.6,48.9 880.6,47.8 880.8,47.6 880.8,48.5 881.1,48.8 881.1,47.4 881.4,47.3 881.4,48.3 881.7,50.5 881.7,49.5 882.0,51.8 882.0,52.0 882.2,51.4 882.2,51.1 882.5,52.6 882.5,52.8 882.8,53.2 882.8,52.9 883.1,53.3 883.1,53.9 883.4,53.7 883.4,52.0 883.6,52.2 883.6,52.8 883.9,51.8 883.9,50.8 884.2,49.5 884.2,50.6 884.5,49.9 884.5,49.6 884.7,49.8 884.7,50.4 885.0,49.7 885.0,49.1 885.3,48.1 885.3,48.9 885.6,48.8 885.6,48.3 885.9,49.0 885.9,50.5 886.1,51.4 886.1,50.6 886.4,50.9 886.4,52.3 886.7,51.5 886.7,51.1 887.0,51.1 887.0,51.7 887.3,52.3 887.3,51.9 887.5,51.7 887.5,52.3 887.8,52.5 887.8,51.8 888.1,51.7 888.1,52.1 888.4,53.6 888.4,52.6 888.7,53.9 888.7,54.2 888.9,54.8 888.9,53.5 889.2,54.1 889.2,55.7 889.5,54.5 889.5,54.0 889.8,53.5 889.8,54.6 890.1,53.3 890.1,52.5 890.3,52.4 890.3,53.2 890.6,53.0 890.6,50.7 890.9,50.7 890.9,53.3 891.2,51.7 891.2,51.1 891.5,51.1 891.5,51.2 891.7,50.9 891.7,50.3 892.0,50.0 892.0,50.7 892.3,50.9 892.3,50.4 892.6,49.8 892.6,50.5 892.9,51.0 892.9,50.3 893.1,51.8 893.1,52.9 893.4,53.0 893.4,51.8 893.7,52.0 893.7,53.1 894.0,53.0 894.0,52.3 894.3,51.8 894.3,52.4 894.5,52.5 894.5,51.8 894.8,51.5 894.8,52.6 895.1,53.4 895.1,50.9 895.4,50.6 895.4,52.1 895.6,52.5 895.6,52.1 895.9,49.3 895.9,49.8 896.2,48.7 896.2,48.2 896.5,48.7 896.5,49.2 896.8,47.9 896.8,46.8 897.0,46.8 897.0,47.4 897.3,46.7 897.3,45.7 897.6,45.6 897.6,46.0 897.9,45.0 897.9,44.5 898.2,44.7 898.2,45.2 898.4,45.2 898.4,44.8 898.7,45.7 898.7,46.2 899.0,45.6 899.0,45.2 899.3,43.3 899.3,44.3 899.6,45.3 899.6,44.1 899.8,43.8 899.8,44.6 900.1,43.4 900.1,42.7 900.4,42.9 900.4,43.9 900.7,44.0 900.7,43.2 901.0,41.7 901.0,44.3 901.2,44.0 901.2,43.5 901.5,44.0 901.5,44.4 901.8,45.1 901.8,43.7 902.1,44.2 902.1,44.8 902.4,45.3 902.4,44.4 902.6,44.2 902.6,45.2 902.9,45.8 902.9,45.0 903.2,45.2 903.2,45.7 903.5,45.8 903.5,45.2 903.8,45.3 903.8,45.9 904.0,45.8 904.0,44.5 904.3,45.1 904.3,46.7 904.6,46.0 904.6,45.3 904.9,45.3 904.9,46.6 905.2,46.5 905.2,46.3 905.4,48.2 905.4,49.4 905.7,49.7 905.7,49.1 906.0,48.5 906.0,49.7 906.3,50.4 906.3,49.5 906.5,50.5 906.5,50.7 906.8,52.6 906.8,51.3 907.1,52.0 907.1,52.7 907.4,53.0 907.4,52.4 907.7,51.1 907.7,52.5 907.9,52.5 907.9,52.3 908.2,51.7 908.2,52.6 908.5,53.1 908.5,52.6 908.8,51.4 908.8,52.2 909.1,52.5 909.1,51.3 909.3,51.0 909.3,53.4 909.6,52.5 909.6,51.0 909.9,52.8 909.9,53.3 910.2,51.3 910.2,50.7 910.5,50.1 910.5,51.2 910.7,49.3 910.7,48.8 911.0,47.5 911.0,48.6 911.3,47.9 911.3,47.1 911.6,45.3 911.6,45.7 911.9,45.0 911.9,43.4 912.1,43.5 912.1,44.5 912.4,43.3 912.4,42.3 912.7,42.9 912.7,44.0 913.0,44.9 913.0,42.7 913.3,41.9 913.3,43.8 913.5,42.0 913.5,41.7 913.8,41.4 913.8,42.6 914.1,42.1 914.1,41.6 914.4,41.1 914.4,41.6 914.7,41.0 914.7,40.7 914.9,40.2 914.9,40.6 915.2,40.6 915.2,39.7 915.5,38.6 915.5,39.6 915.8,41.2 915.8,38.7 916.1,38.2 916.1,39.2 916.3,39.1 916.3,38.4 916.6,37.6 916.6,38.2 916.9,38.8 916.9,38.0 917.2,38.8 917.2,39.5 917.4,41.2 917.4,38.7 917.7,40.0 917.7,40.4 918.0,40.1 918.0,39.3 918.3,39.9 918.3,40.6 918.6,40.5 918.6,40.1 918.8,41.7 918.8,42.1 919.1,43.3 919.1,43.0 919.4,43.6 919.4,44.1 919.7,46.5 919.7,45.6 920.0,45.3 920.0,45.9 920.2,47.5 920.2,47.0 920.5,48.0 920.5,48.4 920.8,48.3 920.8,47.1 921.1,48.7 921.1,49.7 921.4,50.0 921.4,49.5 921.6,47.9 921.6,48.5 921.9,47.8 921.9,47.2 922.2,45.6 922.2,47.3 922.5,44.7 922.5,44.2 922.8,43.6 922.8,44.7 923.0,43.7 923.0,43.2 923.3,42.8 923.3,43.4 923.6,42.4 923.6,41.7 923.9,40.8 923.9,42.2 924.2,40.6 924.2,40.0 924.4,39.4 924.4,40.1 924.7,40.6 924.7,40.1 925.0,39.0 925.0,39.7 925.3,39.9 925.3,39.4 925.6,37.9 925.6,39.5 925.8,38.0 925.8,37.7 926.1,38.6 926.1,39.2 926.4,39.8 926.4,39.2 926.7,37.7 926.7,38.0 927.0,37.5 927.0,36.6 927.2,36.0 927.2,38.0 927.5,37.4 927.5,36.5 927.8,36.5 927.8,37.0 928.1,39.8 928.1,38.7 928.3,38.4 928.3,39.0 928.6,40.4 928.6,39.2 928.9,40.1 928.9,41.4 929.2,43.7 929.2,42.9 929.5,44.0 929.5,45.7 929.7,44.6 929.7,43.3 930.0,45.3 930.0,46.0 930.3,46.5 930.3,44.6 930.6,45.7 930.6,46.7 930.9,48.2 930.9,47.0 931.1,48.2 931.1,48.8 931.4,52.3 931.4,50.4 931.7,53.6 931.7,54.5 932.0,55.2 932.0,53.7 932.3,53.9 932.3,55.7 932.5,55.1 932.5,53.6 932.8,49.3 932.8,51.6 933.1,49.7 933.1,48.6 933.4,45.6 933.4,46.3 933.7,46.9 933.7,44.9 933.9,45.9 933.9,48.1 934.2,50.1 934.2,47.3 934.5,48.9 934.5,50.1 934.8,50.2 934.8,50.0 935.1,50.7 935.1,51.3 935.3,51.7 935.3,49.0 935.6,50.7 935.6,52.2 935.9,52.8 935.9,52.2 936.2,54.0 936.2,54.6 936.5,58.4 936.5,57.0 936.7,58.0 936.7,58.9 937.0,62.6 937.0,58.4 937.3,60.6 937.3,61.7 937.6,61.2 937.6,60.4 937.9,58.3 937.9,60.8 938.1,60.3 938.1,56.1 938.4,56.0 938.4,58.5 938.7,55.6 938.7,54.7 939.0,55.0 939.0,55.8 939.3,58.6 939.3,57.1 939.5,59.0 939.5,60.0 939.8,60.3 939.8,59.5 940.1,58.9 940.1,60.5 940.4,60.3 940.4,57.3 940.6,51.3 940.6,55.5 940.9,55.3 940.9,53.0 941.2,51.8 941.2,54.7 941.5,53.5 941.5,49.9 941.8,48.4 941.8,50.4 942.0,51.4 942.0,50.6 942.3,49.5 942.3,50.8 942.6,50.3 942.6,49.3 942.9,48.4 942.9,52.4 943.2,51.0 943.2,47.6 943.4,46.3 943.4,47.4 943.7,47.9 943.7,45.0 944.0,45.3 944.0,46.2 944.3,46.4 944.3,45.4 944.6,44.7 944.6,47.0 944.8,45.9 944.8,44.9 945.1,44.5 945.1,45.9 945.4,48.0 945.4,46.9 945.7,46.2 945.7,48.2 946.0,47.6 946.0,46.8 946.2,46.5 946.2,49.6 946.5,49.5 946.5,48.2 946.8,47.0 946.8,49.4 947.1,48.9 947.1,48.5 947.4,47.1 947.4,48.0 947.6,46.5 947.6,45.9 947.9,43.7 947.9,46.0 948.2,45.4 948.2,43.5 948.5,46.2 948.5,47.2 948.8,47.8 948.8,45.8 949.0,46.7 949.0,50.5 949.3,49.6 949.3,49.1 949.6,51.8 949.6,53.2 949.9,54.6 949.9,52.7 950.2,51.2 950.2,53.8 950.4,52.7 950.4,51.7 950.7,52.0 950.7,52.6 951.0,55.7 951.0,54.8 951.3,58.3 951.3,59.0" stroke="#030305" stroke-width="0.72" stroke-linejoin="bevel"/>
<path d="M345.0,219.9 345.0,219.3 345.3,219.4 345.3,220.4 345.6,221.7 345.6,221.5 345.9,221.1 345.9,222.3 346.2,223.9 346.2,223.5 346.4,223.2 346.4,223.7 346.7,225.2 346.7,225.0 347.0,223.9 347.0,225.2 347.3,226.0 347.3,224.7 347.5,225.4 347.5,226.0 347.8,228.6 347.8,227.1 348.1,225.9 348.1,227.3 348.4,227.2 348.4,226.2 348.7,225.4 348.7,225.9 348.9,225.7 348.9,223.9 349.2,224.3 349.2,224.9 349.5,223.6 349.5,223.5 349.8,223.3 349.8,223.4 350.1,222.4 350.1,221.9 350.3,220.7 350.3,221.4 350.6,221.4 350.6,220.1 350.9,220.3 350.9,222.0 351.2,219.4 351.2,219.1 351.5,219.1 351.5,219.3 351.7,217.9 351.7,217.1 352.0,217.8 352.0,218.5 352.3,218.4 352.3,218.1 352.6,216.4 352.6,217.3 352.9,218.0 352.9,217.4 353.1,216.9 353.1,217.1 353.4,217.6 353.4,215.6 353.7,216.2 353.7,216.8 354.0,217.5 354.0,217.0 354.3,216.0 354.3,216.2 354.5,216.1 354.5,216.0 354.8,214.1 354.8,215.2 355.1,214.6 355.1,214.0 355.4,213.0 355.4,213.3 355.7,213.7 355.7,213.4 355.9,211.4 355.9,212.8 356.2,212.7 356.2,212.2 356.5,211.7 356.5,212.3 356.8,212.0 356.8,210.7 357.1,211.1 357.1,213.0 357.3,212.0 357.3,211.7 357.6,210.2 357.6,211.4 357.9,211.2 357.9,209.6 358.2,210.1 358.2,210.6 358.4,210.1 358.4,209.4 358.7,209.9 358.7,210.1 359.0,211.3 359.0,210.1 359.3,211.2 359.3,211.4 359.6,210.7 359.6,210.4 359.8,211.3 359.8,212.4 360.1,211.6 360.1,211.3 360.4,212.1 360.4,212.6 360.7,213.4 360.7,212.9 361.0,212.6 361.0,213.1 361.2,213.8 361.2,212.9 361.5,213.0 361.5,213.6 361.8,212.1 361.8,211.2 362.1,211.5 362.1,212.3 362.4,210.7 362.4,209.4 362.6,209.5 362.6,209.8 362.9,207.9 362.9,207.2 363.2,207.0 363.2,208.0 363.5,206.2 363.5,205.3 363.8,205.5 363.8,206.4 364.0,205.2 364.0,204.8 364.3,204.3 364.3,204.7 364.6,203.8 364.6,203.4 364.9,204.7 364.9,204.9 365.2,204.5 365.2,203.8 365.4,205.1 365.4,205.5 365.7,205.1 365.7,204.7 366.0,205.1 366.0,205.6 366.3,206.6 366.3,206.0 366.6,206.1 366.6,206.5 366.8,205.4 366.8,205.1 367.1,205.9 367.1,206.2 367.4,206.3 367.4,206.1 367.7,206.3 367.7,207.1 368.0,208.2 368.0,207.7 368.2,209.3 368.2,210.6 368.5,212.4 368.5,210.5 368.8,212.5 368.8,212.8 369.1,214.7 369.1,214.2 369.3,215.5 369.3,216.2 369.6,217.1 369.6,216.6 369.9,216.4 369.9,216.9 370.2,219.5 370.2,218.8 370.5,217.8 370.5,218.3 370.7,217.8 370.7,217.1 371.0,214.6 371.0,215.0 371.3,212.4 371.3,211.7 371.6,211.5 371.6,211.8 371.9,211.4 371.9,210.4 372.1,208.9 372.1,209.9 372.4,209.0 372.4,208.1 372.7,208.6 372.7,209.3 373.0,209.5 373.0,208.8 373.3,208.0 373.3,208.4 373.5,208.2 373.5,207.4 373.8,207.1 373.8,207.9 374.1,207.3 374.1,206.7 374.4,207.1 374.4,207.4 374.7,207.4 374.7,206.5 374.9,207.0 374.9,207.3 375.2,206.5 375.2,205.6 375.5,205.6 375.5,206.3 375.8,205.4 375.8,205.3 376.1,203.9 376.1,204.5 376.3,204.8 376.3,204.5 376.6,204.7 376.6,205.2 376.9,205.7 376.9,205.0 377.2,205.4 377.2,205.9 377.5,207.3 377.5,206.2 377.7,207.4 377.7,207.7 378.0,208.2 378.0,207.1 378.3,206.6 378.3,207.2 378.6,208.6 378.6,208.4 378.9,208.3 378.9,208.6 379.1,209.9 379.1,208.9 379.4,208.4 379.4,208.9 379.7,208.4 379.7,207.7 380.0,206.4 380.0,208.1 380.3,206.8 380.3,205.7 380.5,204.8 380.5,205.5 380.8,206.0 380.8,205.7 381.1,205.3 381.1,205.9 381.4,206.1 381.4,205.9 381.6,205.9 381.6,206.3 381.9,206.6 381.9,205.7 382.2,205.6 382.2,205.9 382.5,207.4 382.5,206.3 382.8,206.9 382.8,207.9 383.0,207.8 383.0,206.0 383.3,207.5 383.3,209.2 383.6,209.5 383.6,209.1 383.9,209.9 383.9,210.2 384.2,208.4 384.2,208.1 384.4,208.0 384.4,208.8 384.7,209.4 384.7,208.2 385.0,207.0 385.0,208.3 385.3,206.3 385.3,205.2 385.6,205.7 385.6,206.2 385.8,206.1 385.8,205.4 386.1,204.4 386.1,204.6 386.4,206.9 386.4,204.9 386.7,205.2 386.7,205.7 387.0,205.4 387.0,204.5 387.2,204.1 387.2,204.6 387.5,204.0 387.5,202.9 387.8,202.5 387.8,202.8 388.1,203.1 388.1,202.6 388.4,202.2 388.4,204.2 388.6,202.8 388.6,202.6 388.9,203.1 388.9,204.0 389.2,203.8 389.2,203.4 389.5,202.0 389.5,203.2 389.8,202.7 389.8,201.8 390.0,201.3 390.0,202.0 390.3,201.9 390.3,201.4 390.6,201.6 390.6,202.1 390.9,202.5 390.9,202.0 391.2,201.6 391.2,202.0 391.4,202.4 391.4,202.0 391.7,201.1 391.7,201.7 392.0,202.6 392.0,202.3 392.3,202.4 392.3,202.9 392.5,203.6 392.5,202.8 392.8,202.6 392.8,203.3 393.1,202.3 393.1,201.5 393.4,201.6 393.4,202.3 393.7,200.8 393.7,200.6 393.9,199.9 393.9,201.1 394.2,200.1 394.2,199.6 394.5,199.2 394.5,199.9 394.8,200.7 394.8,199.3 395.1,199.9 395.1,200.2 395.3,200.2 395.3,199.9 395.6,199.9 395.6,200.3 395.9,200.1 395.9,199.2 396.2,198.8 396.2,199.0 396.5,200.1 396.5,199.4 396.7,198.7 396.7,199.1 397.0,198.6 397.0,198.2 397.3,198.2 397.3,198.8 397.6,198.2 397.6,197.9 397.9,198.9 397.9,199.5 398.1,199.2 398.1,198.8 398.4,198.2 398.4,198.9 398.7,199.3 398.7,199.0 399.0,198.6 399.0,199.1 399.3,199.9 399.3,199.4 399.5,199.1 399.5,200.0 399.8,199.1 399.8,198.1 400.1,198.5 400.1,199.4 400.4,198.9 400.4,198.4 400.7,197.2 400.7,197.6 400.9,196.9 400.9,196.3 401.2,197.1 401.2,197.5 401.5,197.2 401.5,196.5 401.8,197.2 401.8,197.5 402.1,198.6 402.1,197.8 402.3,197.5 402.3,198.3 402.6,196.8 402.6,196.3 402.9,196.4 402.9,196.8 403.2,197.4 403.2,196.9 403.4,197.0 403.4,197.8 403.7,198.9 403.7,197.9 404.0,198.6 404.0,198.9 404.3,201.3 404.3,200.9 404.6,200.2 404.6,201.8 404.8,201.9 404.8,201.4 405.1,202.3 405.1,202.8 405.4,204.9 405.4,204.4 405.7,204.5 405.7,205.1 406.0,206.0 406.0,205.2 406.2,205.5 406.2,206.2 406.5,206.0 406.5,205.1 406.8,204.0 406.8,205.1 407.1,203.1 407.1,202.6 407.4,203.2 407.4,204.2 407.6,202.7 407.6,201.9 407.9,200.6 407.9,200.9 408.2,201.0 408.2,200.6 408.5,200.0 408.5,201.5 408.8,199.9 408.8,199.4 409.0,198.1 409.0,198.9 409.3,197.4 409.3,196.2 409.6,197.6 409.6,198.5 409.9,197.6 409.9,197.3 410.2,197.1 410.2,197.4 410.4,197.5 410.4,196.9 410.7,197.0 410.7,197.7 411.0,197.4 411.0,197.1 411.3,197.0 411.3,197.5 411.6,196.7 411.6,195.8 411.8,195.0 411.8,196.3 412.1,195.7 412.1,195.1 412.4,196.0 412.4,196.6 412.7,196.5 412.7,195.9 413.0,196.4 413.0,196.6 413.2,195.7 413.2,195.6 413.5,194.8 413.5,195.8 413.8,196.5 413.8,195.1 414.1,194.9 414.1,196.0 414.3,195.6 414.3,193.6 414.6,195.6 414.6,195.8 414.9,197.1 414.9,196.0 415.2,196.2 M541.2,184.6 541.2,182.9 541.5,182.4 541.5,182.8 541.8,183.0 541.8,182.6 542.1,180.9 542.1,182.5 542.4,182.0 542.4,180.7 542.6,179.4 542.6,180.5 542.9,181.6 542.9,180.8 543.2,180.5 543.2,181.2 543.5,180.2 543.5,179.3 543.8,180.5 543.8,181.0 544.0,180.4 544.0,180.1 544.3,179.9 544.3,180.3 544.6,179.6 544.6,178.9 544.9,179.7 544.9,180.5 545.2,180.8 545.2,180.1 545.4,179.6 545.4,179.9 545.7,180.4 545.7,179.2 546.0,178.6 546.0,179.4 546.3,178.8 546.3,178.4 546.6,177.2 546.6,177.6 546.8,178.3 546.8,178.0 547.1,178.7 547.1,179.0 547.4,178.9 547.4,178.3 547.7,177.8 547.7,178.2 548.0,179.1 548.0,178.1 548.2,178.1 548.2,178.4 548.5,179.2 548.5,178.8 548.8,179.5 548.8,180.1 549.1,179.2 549.1,178.8 549.3,179.1 549.3,179.7 549.6,180.8 549.6,180.0 549.9,180.8 549.9,181.3 550.2,180.4 550.2,179.4 550.5,179.0 550.5,179.4 550.7,179.4 550.7,179.0 551.0,179.2 551.0,179.8 551.3,181.2 551.3,179.7 551.6,179.7 551.6,180.0 551.9,181.7 551.9,181.3 552.1,180.6 552.1,181.2 552.4,181.2 552.4,180.9 552.7,182.1 552.7,182.2 553.0,182.5 553.0,182.3 553.3,181.9 553.3,182.9 553.5,182.2 553.5,181.7 553.8,182.5 553.8,182.9 554.1,183.6 554.1,182.7 554.4,183.4 554.4,183.9 554.7,184.0 554.7,182.7 554.9,182.7 554.9,184.4 555.2,183.9 555.2,182.7 555.5,182.5 555.5,183.8 555.8,183.4 555.8,183.2 556.1,183.8 556.1,184.7 556.3,184.8 556.3,183.5 556.6,183.3 556.6,184.3 556.9,184.1 556.9,182.9 557.2,184.7 557.2,185.4 557.5,185.0 557.5,184.6 557.7,182.3 557.7,183.3 558.0,184.4 558.0,183.3 558.3,183.8 558.3,184.5 558.6,183.6 558.6,183.2 558.9,183.4 558.9,183.9 559.1,185.3 559.1,184.6 559.4,184.5 559.4,184.6 559.7,185.3 559.7,184.6 560.0,184.7 560.0,185.8 560.2,185.3 560.2,184.6 560.5,184.4 560.5,184.9 560.8,184.2 560.8,183.6 561.1,183.2 561.1,184.1 561.4,184.8 561.4,184.1 561.6,183.8 561.6,185.3 561.9,184.7 561.9,184.1 562.2,183.8 562.2,184.4 562.5,184.4 562.5,183.5 562.8,183.8 562.8,184.2 563.0,184.0 563.0,183.4 563.3,184.4 563.3,185.8 563.6,184.5 563.6,184.1 563.9,184.0 563.9,185.6 564.2,186.2 564.2,185.3 564.4,185.7 564.4,186.4 564.7,183.9 564.7,183.7 565.0,182.3 565.0,183.1 565.3,182.3 565.3,181.5 565.6,179.3 565.6,179.5 565.8,179.1 565.8,178.2 566.1,177.5 566.1,178.3 566.4,176.6 566.4,175.8 566.7,175.7 566.7,176.2 567.0,176.0 567.0,175.8 567.2,174.2 567.2,175.2 567.5,174.4 567.5,174.2 567.8,173.4 567.8,174.1 568.1,174.2 568.1,172.5 568.4,172.2 568.4,172.6 568.6,172.5 568.6,171.6 568.9,172.1 568.9,172.5 569.2,172.5 569.2,171.7 569.5,171.2 569.5,171.9 569.8,171.3 569.8,171.0 570.0,170.4 570.0,170.6 570.3,169.9 570.3,169.5 570.6,168.7 570.6,169.3 570.9,168.2 570.9,167.3 571.1,166.7 571.1,168.0 571.4,166.4 571.4,166.1 571.7,164.4 571.7,164.7 572.0,163.6 572.0,163.2 572.3,164.9 572.3,165.2 572.5,165.1 572.5,164.9 572.8,163.9 572.8,164.4 573.1,165.2 573.1,164.4 573.4,164.9 573.4,165.0 573.7,164.7 573.7,163.7 573.9,164.4 573.9,164.8 574.2,166.0 574.2,165.8 574.5,165.4 574.5,165.9 574.8,166.2 574.8,165.6 575.1,165.4 575.1,165.7 575.3,165.5 575.3,164.9 575.6,165.0 575.6,165.3 575.9,164.9 575.9,164.6 576.2,164.7 576.2,165.1 576.5,166.1 576.5,165.5 576.7,164.6 576.7,164.9 577.0,164.7 577.0,164.3 577.3,164.6 577.3,165.1 577.6,165.3 577.6,164.7 577.9,164.0 577.9,165.0 578.1,165.2 578.1,164.9 578.4,164.8 578.4,165.9 578.7,165.5 578.7,164.2 579.0,163.9 579.0,164.8 579.3,165.1 579.3,163.9 579.5,163.8 579.5,164.3 579.8,166.0 579.8,164.9 580.1,164.1 580.1,164.3 580.4,164.6 580.4,164.3 580.7,163.9 580.7,164.9 580.9,164.4 580.9,164.0 581.2,162.7 581.2,163.5 581.5,163.0 581.5,162.6 581.8,162.1 581.8,162.3 582.0,161.9 582.0,160.6 582.3,159.9 582.3,160.9 582.6,160.2 582.6,159.7 582.9,158.2 582.9,158.5 583.2,159.4 583.2,158.7 583.4,157.9 583.4,158.5 583.7,157.3 583.7,156.6 584.0,157.0 584.0,157.8 584.3,156.9 584.3,155.9 584.6,155.1 584.6,155.5 584.8,155.0 584.8,154.1 585.1,154.4 585.1,154.6 585.4,154.5 585.4,154.3 585.7,152.9 585.7,153.5 586.0,153.3 586.0,152.0 586.2,151.9 586.2,152.6 586.5,152.6 586.5,151.7 586.8,153.3 586.8,154.3 587.1,154.2 587.1,153.8 587.4,153.7 587.4,153.8 587.6,154.7 587.6,154.4 587.9,154.1 587.9,154.3 588.2,154.5 588.2,154.0 588.5,154.5 588.5,154.8 588.8,155.1 588.8,154.5 589.0,154.4 589.0,154.8 589.3,154.9 589.3,154.7 589.6,155.0 589.6,155.9 589.9,155.0 589.9,154.8 590.2,154.8 590.2,155.3 590.4,155.1 590.4,154.7 590.7,155.5 590.7,156.0 591.0,156.5 591.0,155.9 591.3,156.7 591.3,157.0 591.6,157.5 591.6,156.8 591.8,157.0 591.8,157.5 592.1,158.9 592.1,158.4 592.4,158.9 592.4,159.7 592.7,159.0 592.7,158.5 592.9,157.7 592.9,158.1 593.2,158.7 593.2,158.1 593.5,158.4 593.5,158.9 593.8,158.4 593.8,158.1 594.1,159.1 594.1,159.6 594.3,158.6 594.3,158.4 594.6,157.1 594.6,158.1 594.9,157.2 594.9,157.0 595.2,157.1 595.2,157.4 595.5,156.6 595.5,156.4 595.7,156.5 595.7,156.8 596.0,156.7 596.0,155.9 596.3,155.6 596.3,156.0 596.6,155.5 596.6,155.3 596.9,154.1 596.9,154.6 597.1,154.0 597.1,153.3 597.4,153.6 597.4,153.7 597.7,154.0 597.7,153.6 598.0,154.5 598.0,154.9 598.3,154.7 598.3,154.4 598.5,153.2 598.5,154.6 598.8,154.3 598.8,154.0 599.1,154.4 599.1,154.7 599.4,155.2 599.4,154.7 599.7,154.9 599.7,155.7 599.9,155.9 599.9,155.5 600.2,154.9 600.2,155.2 600.5,154.9 600.5,154.6 600.8,155.5 600.8,156.0 601.1,155.2 601.1,154.8 601.3,153.7 601.3,155.0 601.6,154.2 601.6,153.0 601.9,153.6 601.9,154.0 602.2,153.6 602.2,153.0 602.5,153.0 602.5,153.3 602.7,153.1 602.7,152.6 603.0,151.7 603.0,152.3 603.3,151.2 603.3,150.8 603.6,151.0 603.6,151.7 603.9,151.0 603.9,150.7 604.1,151.5 604.1,152.1 604.4,152.1 604.4,151.8 604.7,151.2 604.7,151.5 605.0,151.4 605.0,150.7 605.2,150.4 605.2,150.6 605.5,150.9 605.5,150.0 605.8,149.8 605.8,150.7 606.1,150.3 606.1,149.9 606.4,150.0 606.4,150.6 606.6,150.5 606.6,150.2 606.9,149.4 606.9,149.5 607.2,148.9 607.2,148.6 607.5,148.3 607.5,148.6 607.8,148.4 607.8,147.5 608.0,148.3 608.0,148.7 608.3,148.7 608.3,148.4 608.6,147.9 608.6,148.5 608.9,148.4 608.9,148.1 609.2,148.0 609.2,148.3 609.4,148.7 609.4,147.5 609.7,147.3 609.7,147.9 610.0,147.5 610.0,147.2 610.3,147.7 610.3,148.0 610.6,147.8 610.6,147.4 610.8,146.9 610.8,147.5 611.1,147.4 611.1,146.7 611.4,147.4 611.4,147.6 611.7,147.4 611.7,147.1 612.0,147.3 612.0,147.6 612.2,147.9 612.2,147.4 612.5,147.8 612.5,148.0 612.8,148.4 612.8,148.1 613.1,146.5 613.1,147.1 613.4,146.9 613.4,146.7 613.6,145.4 613.6,146.0 613.9,145.3 613.9,145.0 614.2,145.7 614.2,146.1 614.5,146.2 614.5,145.8 614.8,145.4 614.8,145.8 615.0,144.4 615.0,144.1 615.3,144.6 615.3,145.2 615.6,144.0 615.6,143.6 615.9,143.3 615.9,143.6 616.1,142.9 616.1,142.6 616.4,142.9 616.4,143.6 616.7,143.1 616.7,142.8 617.0,142.4 617.0,142.8 617.3,143.3 617.3,142.8 617.5,143.0 617.5,143.4 617.8,144.4 617.8,143.8 618.1,143.0 618.1,143.2 618.4,144.1 618.4,143.8 618.7,143.6 618.7,144.0 618.9,144.3 618.9,144.0 619.2,144.0 619.2,144.3 619.5,145.8 619.5,145.3 619.8,144.5 619.8,144.9 620.1,145.4 620.1,145.2 620.3,145.3 620.3,145.5 620.6,145.5 620.6,145.2 620.9,145.6 620.9,145.8 621.2,145.4 621.2,144.9 621.5,144.5 621.5,145.7 621.7,144.8 621.7,143.6 622.0,143.6 622.0,143.9 622.3,144.1 622.3,143.7 622.6,143.3 622.6,143.6 622.9,143.3 622.9,143.1 623.1,143.5 623.1,144.2 623.4,141.9 623.4,141.3 623.7,141.2 623.7,141.5 624.0,141.6 624.0,141.1 624.3,140.9 624.3,141.2 624.5,142.2 624.5,141.8 624.8,141.6 624.8,142.3 625.1,141.1 625.1,140.5 625.4,140.8 625.4,141.3 625.7,140.7 625.7,140.4 625.9,140.0 625.9,140.8 626.2,139.8 626.2,139.4 626.5,139.0 626.5,139.3 626.8,139.4 626.8,138.9 627.0,138.8 627.0,139.2 627.3,139.1 627.3,138.7 627.6,138.3 627.6,138.7 627.9,138.4 627.9,138.2 628.2,137.1 628.2,137.8 628.4,136.8 628.4,136.6 628.7,136.1 628.7,136.5 629.0,135.8 629.0,135.5 629.3,134.8 629.3,135.3 629.6,134.6 629.6,134.4 629.8,133.7 629.8,134.1 630.1,133.6 630.1,133.0 630.4,132.8 630.4,133.1 630.7,132.7 630.7,132.5 631.0,132.4 631.0,133.1 631.2,133.8 631.2,133.1 631.5,133.7 631.5,133.8 631.8,133.8 631.8,132.9 632.1,131.1 632.1,131.8 632.4,130.9 632.4,130.5 632.6,130.9 632.6,131.2 632.9,131.4 632.9,130.8 633.2,130.7 633.2,131.4 633.5,131.3 633.5,131.1 633.8,130.9 633.8,131.0 634.0,132.1 634.0,131.9 634.3,131.2 634.3,132.0 634.6,132.1 634.6,131.3 634.9,131.4 634.9,132.2 635.2,131.9 635.2,131.6 635.4,131.4 635.4,131.7 635.7,131.9 635.7,131.2 636.0,131.5 636.0,131.7 636.3,130.8 636.3,130.5 636.6,130.9 636.6,131.0 636.8,131.9 636.8,131.7 637.1,131.8 637.1,132.0 637.4,131.2 637.4,130.2 637.7,129.7 637.7,130.0 637.9,129.7 637.9,129.1 638.2,128.0 638.2,128.6 638.5,128.0 638.5,127.7 638.8,128.0 638.8,128.3 639.1,127.1 639.1,126.6 639.3,125.6 639.3,126.2 639.6,125.3 639.6,125.1 639.9,124.2 639.9,124.9 640.2,122.9 640.2,122.7 640.5,123.0 640.5,123.1 640.7,122.7 640.7,122.3 641.0,121.3 641.0,121.9 641.3,121.6 641.3,121.4 641.6,120.7 641.6,121.3 641.9,122.2 641.9,121.6 642.1,120.6 642.1,120.9 642.4,119.5 642.4,119.3 642.7,118.3 642.7,118.8 643.0,119.4 643.0,119.0 643.3,119.4 643.3,119.9 643.5,120.4 643.5,119.7 643.8,119.6 643.8,120.4 644.1,119.9 644.1,119.6 644.4,119.1 644.4,120.2 644.7,119.3 644.7,118.6 644.9,118.7 644.9,119.2 645.2,117.6 645.2,117.3 645.5,117.4 645.5,117.8 645.8,117.7 645.8,117.3 646.1,116.7 646.1,117.1 646.3,115.1 646.3,114.6 646.6,113.8 646.6,114.2 646.9,114.0 646.9,112.8 647.2,112.0 647.2,112.1 647.5,111.4 647.5,110.9 647.7,110.0 647.7,110.5 648.0,109.5 648.0,109.3 648.3,109.2 648.3,110.0 648.6,108.3 648.6,107.6 648.8,107.9 648.8,108.8 649.1,107.5 649.1,107.3 649.4,107.6 649.4,107.9 649.7,106.6 649.7,106.1 650.0,105.8 650.0,107.2 650.2,105.6 650.2,104.6 650.5,104.5 650.5,106.0 650.8,105.5 650.8,105.2 651.1,105.8" stroke="#030305" stroke-width="0.56" stroke-linejoin="bevel"/>
<path d="M950.3,51.5L951.1,62.6" stroke="#030305" stroke-width="1.5"/>
<path d="M68.8,296.5V306M107.1,291V310M115.6,296.5V301M217.1,270V283.5" stroke="#555" stroke-width="0.45"/>
<line x1="23.7" y1="327.7" x2="987.5" y2="44.1" stroke="#0b0b0d" stroke-width="1.25"/>
<polyline points="24.3,398.8 176.1,256.3 206.7,300.6" stroke="#0b0b0d" stroke-width="1.2" stroke-linejoin="miter"/>
<circle cx="952.9" cy="69.4" r="5.45" stroke="#0b0b0d" stroke-width="1.7"/>
<circle cx="954.5" cy="80.8" r="5.45" stroke="#0b0b0d" stroke-width="1.7"/>
</g>
<line x1="987.5" y1="16.0" x2="987.5" y2="436.0" stroke="#5e5f64" stroke-width="0.85"/>
<line x1="6.0" y1="421.2" x2="1018.0" y2="421.2" stroke="#85868b" stroke-width="1.05"/>
<g font-size="6.6" fill="#55575d">
<text x="992.9" y="21.4">400.00</text>
<text x="992.9" y="43.5">360.00</text>
<text x="992.9" y="96.1">280.00</text>
<text x="992.9" y="119.9">250.00</text>
<text x="992.9" y="137.3">230.00</text>
<text x="992.9" y="156.4">210.00</text>
<text x="992.9" y="177.3">190.00</text>
<text x="992.9" y="200.6">170.00</text>
<text x="992.9" y="220.0">155.00</text>
<text x="992.9" y="236.8">143.00</text>
<text x="992.9" y="255.2">131.00</text>
<text x="992.9" y="275.3">119.00</text>
<text x="992.9" y="293.7">109.00</text>
<text x="992.9" y="313.8">99.00</text>
<text x="992.9" y="331.5">91.00</text>
<text x="992.9" y="350.7">83.00</text>
<text x="992.9" y="369.2">76.00</text>
<text x="992.9" y="386.4">70.00</text>
<text x="992.9" y="403.6">64.50</text>
<text x="992.9" y="420.4">59.50</text>
</g>
<rect x="995.3" y="19.9" width="14.9" height="8.2" rx="1.6" fill="#fff" stroke="#dfe2e8" stroke-width="0.7"/>
<text x="1002.7" y="26.3" font-size="6.4" fill="#55575d" text-anchor="middle">USD</text>
<path d="M987.2,58.5H1014.9a1.5,1.5 0 0 1 1.5,1.5V76.2H987.2z" fill="#0c0c0e"/>
<rect x="986.9" y="76.0" width="29.5" height="9.3" fill="#1c6df6"/>
<path d="M987.2,85.3H1016.4V92.7a1.5,1.5 0 0 1 -1.5,1.5H987.2z" fill="#0c0c0e"/>
<g font-size="6.55" fill="#fff" font-weight="bold">
<text x="992.8" y="66.0">323.55</text>
<text x="992.8" y="73.9" font-weight="normal" fill="#f0f0f0">23:17</text>
<text x="992.8" y="83.1">313.49</text>
<text x="992.8" y="92.5">297.42</text>
</g>
<g font-size="7" fill="#45474d" text-anchor="middle">
<text x="12.7" y="431">2009</text>
<text x="83.0" y="431">2010</text>
<text x="153.4" y="431">2011</text>
<text x="223.7" y="431">2012</text>
<text x="294.0" y="431">2013</text>
<text x="364.3" y="431">2014</text>
<text x="434.7" y="431">2015</text>
<text x="505.0" y="431">2016</text>
<text x="575.3" y="431">2017</text>
<text x="645.7" y="431">2018</text>
<text x="716.0" y="431">2019</text>
<text x="786.3" y="431">2020</text>
<text x="856.7" y="431">2021</text>
<text x="927.0" y="431">2022</text>
</g>
<g fill="#0c0c0e"><path d="M5.5,442.9h4.5v6.1h-2.3v-3.8h-2.2z"/><circle cx="11.6" cy="444.1" r="1.15"/><path d="M13.3,442.9h3.1l-2.6,6.1h-3.0z"/></g>
<text x="19.0" y="448.7" font-size="8.3" fill="#50525a" textLength="38.8" lengthAdjust="spacingAndGlyphs">TradingView</text>
<text y="10.6" font-size="6.8" fill="#2b2d33"><tspan x="6.1" textLength="26.5" lengthAdjust="spacingAndGlyphs">jsaettele</tspan> <tspan x="34.8" textLength="27.6" lengthAdjust="spacingAndGlyphs">published</tspan> <tspan x="65.3" textLength="6.1" lengthAdjust="spacingAndGlyphs">on</tspan> <tspan x="75.0" textLength="51.8" lengthAdjust="spacingAndGlyphs">TradingView.com,</tspan> <tspan x="130.3" textLength="10.3" lengthAdjust="spacingAndGlyphs">May</tspan> <tspan x="143.1" textLength="8.7" lengthAdjust="spacingAndGlyphs">09,</tspan> <tspan x="155.0" textLength="13.1" lengthAdjust="spacingAndGlyphs">2022</tspan> <tspan x="171.3" textLength="15.6" lengthAdjust="spacingAndGlyphs">14:36</tspan> <tspan x="190.0" textLength="17.5" lengthAdjust="spacingAndGlyphs">UTC-5</tspan></text>
<g font-size="6.7" fill="#5a5c62">
<text y="26.4"><tspan x="10.3" textLength="15.2" lengthAdjust="spacingAndGlyphs">SPDR</tspan> <tspan x="27.8" textLength="12.4" lengthAdjust="spacingAndGlyphs">Dow</tspan> <tspan x="42.5" textLength="15.6" lengthAdjust="spacingAndGlyphs">Jones</tspan> <tspan x="60.6" textLength="28.4" lengthAdjust="spacingAndGlyphs">Industrial</tspan> <tspan x="91.3" textLength="22.7" lengthAdjust="spacingAndGlyphs">Average</tspan> <tspan x="116.6" textLength="10.2" lengthAdjust="spacingAndGlyphs">ETF,</tspan> <tspan x="131.5" textLength="7.8" lengthAdjust="spacingAndGlyphs">1D,</tspan> <tspan x="143.1" textLength="15.6" lengthAdjust="spacingAndGlyphs">AMEX</tspan></text>
<text x="163.1" y="26.4" textLength="24.4" lengthAdjust="spacingAndGlyphs">O<tspan fill="#33353b" stroke="#33353b" stroke-width="0.2">324.98</tspan></text>
<text x="191.9" y="26.4" textLength="24.1" lengthAdjust="spacingAndGlyphs">H<tspan fill="#33353b" stroke="#33353b" stroke-width="0.2">326.37</tspan></text>
<text x="220.2" y="26.4" textLength="23.5" lengthAdjust="spacingAndGlyphs">L<tspan fill="#33353b" stroke="#33353b" stroke-width="0.2">322.60</tspan></text>
<text x="247.7" y="26.4" textLength="24.0" lengthAdjust="spacingAndGlyphs">C<tspan fill="#33353b" stroke="#33353b" stroke-width="0.2">323.55</tspan></text>
<text x="275.9" y="26.4" textLength="15.9" lengthAdjust="spacingAndGlyphs" fill="#33353b" stroke="#33353b" stroke-width="0.2">−5.52</text>
<text x="294.6" y="26.4" textLength="24.8" lengthAdjust="spacingAndGlyphs" fill="#33353b" stroke="#33353b" stroke-width="0.2">(−1.68%)</text>
</g>
</svg>
</body></html>
